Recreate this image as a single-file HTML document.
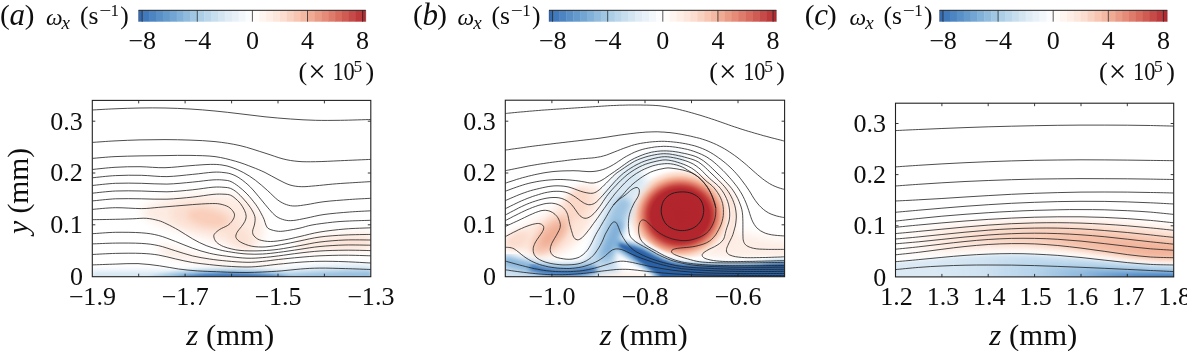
<!DOCTYPE html>
<html lang="en"><head><meta charset="utf-8"><title>Vorticity contours</title>
<style>html,body{margin:0;padding:0;background:#fff}svg{display:block}text{font-family:"Liberation Serif", "DejaVu Serif", serif;fill:#0e0e0e}</style></head><body>
<svg width="1187" height="351" viewBox="0 0 1187 351">
<rect width="1187" height="351" fill="#fff"/>
<defs>
<clipPath id="clipa"><rect x="92.3" y="100.4" width="278.5" height="176.3"/></clipPath>
<clipPath id="clipb"><rect x="505.3" y="100.2" width="279.3" height="176.5"/></clipPath>
<clipPath id="clipc"><rect x="895.5" y="103.2" width="278.2" height="173.7"/></clipPath>
<filter id="b1" x="-50%" y="-50%" width="200%" height="200%"><feGaussianBlur stdDeviation="1"/></filter>
<filter id="b1_5" x="-50%" y="-50%" width="200%" height="200%"><feGaussianBlur stdDeviation="1.5"/></filter>
<filter id="b2" x="-50%" y="-50%" width="200%" height="200%"><feGaussianBlur stdDeviation="2"/></filter>
<filter id="b3" x="-50%" y="-50%" width="200%" height="200%"><feGaussianBlur stdDeviation="3"/></filter>
<filter id="b4" x="-50%" y="-50%" width="200%" height="200%"><feGaussianBlur stdDeviation="4"/></filter>
<filter id="b5" x="-50%" y="-50%" width="200%" height="200%"><feGaussianBlur stdDeviation="5"/></filter>
<filter id="b6" x="-50%" y="-50%" width="200%" height="200%"><feGaussianBlur stdDeviation="6"/></filter>
<filter id="b8" x="-50%" y="-50%" width="200%" height="200%"><feGaussianBlur stdDeviation="8"/></filter>
<filter id="b10" x="-50%" y="-50%" width="200%" height="200%"><feGaussianBlur stdDeviation="10"/></filter>
</defs>
<g id="panel-a">
<text transform="translate(0.0 23.8) scale(1.030 1)" font-size="28.3" text-anchor="start">(</text>
<text transform="translate(9.6 24.6) scale(1.000 1)" font-size="31.0" text-anchor="start" font-style="italic">a</text>
<text transform="translate(24.8 23.8) scale(1.030 1)" font-size="28.3" text-anchor="start">)</text>
<text transform="translate(46.0 24.6) scale(1.000 1)" font-size="23.5" text-anchor="start" font-style="italic">ω</text>
<text transform="translate(61.6 28.6) scale(1.000 1)" font-size="19.0" text-anchor="start" font-style="italic">x</text>
<text transform="translate(79.9 24.2) scale(1.040 1)" font-size="24.6" text-anchor="start">(s</text>
<text transform="translate(99.2 15.9) scale(1.250 1)" font-size="17.0" text-anchor="start">−</text>
<text transform="translate(110.6 15.9) scale(1.000 1)" font-size="17.0" text-anchor="start">1</text>
<text transform="translate(120.3 24.2) scale(1.040 1)" font-size="24.6" text-anchor="start">)</text>
<rect x="138.50" y="10.30" width="4.06" height="11.40" fill="#366bb2"/>
<rect x="142.16" y="10.30" width="7.29" height="11.40" fill="#417abc"/>
<rect x="149.05" y="10.30" width="7.29" height="11.40" fill="#4d84c2"/>
<rect x="155.94" y="10.30" width="7.29" height="11.40" fill="#5990c7"/>
<rect x="162.83" y="10.30" width="7.29" height="11.40" fill="#659acd"/>
<rect x="169.72" y="10.30" width="7.29" height="11.40" fill="#72a5d3"/>
<rect x="176.61" y="10.30" width="7.29" height="11.40" fill="#81b0d8"/>
<rect x="183.50" y="10.30" width="7.29" height="11.40" fill="#90bbdd"/>
<rect x="190.39" y="10.30" width="7.29" height="11.40" fill="#9fc6e2"/>
<rect x="197.28" y="10.30" width="7.29" height="11.40" fill="#accfe7"/>
<rect x="204.17" y="10.30" width="7.29" height="11.40" fill="#bad6eb"/>
<rect x="211.06" y="10.30" width="7.29" height="11.40" fill="#c6deee"/>
<rect x="217.95" y="10.30" width="7.29" height="11.40" fill="#d4e5f2"/>
<rect x="224.84" y="10.30" width="7.29" height="11.40" fill="#dfecf5"/>
<rect x="231.73" y="10.30" width="7.29" height="11.40" fill="#e8f1f8"/>
<rect x="238.62" y="10.30" width="7.29" height="11.40" fill="#f1f7fb"/>
<rect x="245.51" y="10.30" width="7.29" height="11.40" fill="#fafcfe"/>
<rect x="252.40" y="10.30" width="7.29" height="11.40" fill="#fffcfa"/>
<rect x="259.29" y="10.30" width="7.29" height="11.40" fill="#fef4f0"/>
<rect x="266.18" y="10.30" width="7.29" height="11.40" fill="#feeee5"/>
<rect x="273.07" y="10.30" width="7.29" height="11.40" fill="#fde6db"/>
<rect x="279.96" y="10.30" width="7.29" height="11.40" fill="#fcddcf"/>
<rect x="286.85" y="10.30" width="7.29" height="11.40" fill="#f9d1c0"/>
<rect x="293.74" y="10.30" width="7.29" height="11.40" fill="#f7c5b1"/>
<rect x="300.63" y="10.30" width="7.29" height="11.40" fill="#f4b9a2"/>
<rect x="307.52" y="10.30" width="7.29" height="11.40" fill="#f0ab94"/>
<rect x="314.41" y="10.30" width="7.29" height="11.40" fill="#ea9b86"/>
<rect x="321.30" y="10.30" width="7.29" height="11.40" fill="#e58b78"/>
<rect x="328.19" y="10.30" width="7.29" height="11.40" fill="#df7b6a"/>
<rect x="335.08" y="10.30" width="7.29" height="11.40" fill="#d86b5e"/>
<rect x="341.97" y="10.30" width="7.29" height="11.40" fill="#cf5b52"/>
<rect x="348.86" y="10.30" width="7.29" height="11.40" fill="#c64a48"/>
<rect x="355.75" y="10.30" width="7.29" height="11.40" fill="#bd3a3c"/>
<rect x="362.64" y="10.30" width="3.16" height="11.40" fill="#b52930"/>
<path d="M138.5 10.3H365.8" stroke="#222" stroke-width="1" fill="none"/>
<path d="M138.5 10.3V21.7 M365.8 10.3V21.7" stroke="#333" stroke-width="0.5" fill="none" opacity="0.6"/>
<path d="M142.2 10.3V21.7" stroke="#222" stroke-width="0.75" fill="none"/>
<text transform="translate(142.2 49.2) scale(1.050 1)" font-size="24.8" text-anchor="middle">−8</text>
<path d="M197.3 10.3V21.7" stroke="#222" stroke-width="0.75" fill="none"/>
<text transform="translate(197.3 49.2) scale(1.050 1)" font-size="24.8" text-anchor="middle">−4</text>
<path d="M252.4 10.3V21.7" stroke="#222" stroke-width="0.75" fill="none"/>
<text transform="translate(252.4 49.2) scale(1.050 1)" font-size="24.8" text-anchor="middle">0</text>
<path d="M307.5 10.3V21.7" stroke="#222" stroke-width="0.75" fill="none"/>
<text transform="translate(307.5 49.2) scale(1.050 1)" font-size="24.8" text-anchor="middle">4</text>
<path d="M362.6 10.3V21.7" stroke="#222" stroke-width="0.75" fill="none"/>
<text transform="translate(362.6 49.2) scale(1.050 1)" font-size="24.8" text-anchor="middle">8</text>
<text transform="translate(298.4 80.0) scale(1.050 1)" font-size="24.8" text-anchor="start">(</text>
<text transform="translate(317.0 82.0) scale(1.000 1)" font-size="31.0" text-anchor="middle">×</text>
<text transform="translate(332.4 80.0) scale(0.900 1)" font-size="24.8" text-anchor="start">10</text>
<text transform="translate(353.4 71.5) scale(1.000 1)" font-size="17.5" text-anchor="start">5</text>
<text transform="translate(374.2 80.0) scale(1.050 1)" font-size="24.8" text-anchor="end">)</text>
<g clip-path="url(#clipa)">
<g filter="url(#b5)">
<path d="M140 211C156 197 200 192 236 196C254 200 262 214 264 230C264 243 254 250 242 248C225 245 205 238 185 232C163 226 146 220 140 211Z" fill="#fdebe2"/>
</g>
<g filter="url(#b4)">
<ellipse cx="204" cy="217" rx="34" ry="13.5" fill="#fbdfd1" transform="rotate(8 204 217)"/><ellipse cx="236" cy="234" rx="20" ry="9" fill="#fbe0d3" transform="rotate(40 236 234)"/>
</g>
<g filter="url(#b3)">
<ellipse cx="208" cy="218" rx="21" ry="8.5" fill="#f9ceba" transform="rotate(12 208 218)"/>
</g>
<g filter="url(#b4)">
<path d="M296 242C320 236 345 233 372 233L372 250C345 250 320 251 296 251Z" fill="#fde9de"/><path d="M330 244C345 240 360 239 372 239L372 247C360 247 345 248 330 248Z" fill="#fbdfd1"/>
<path d="M88.0 249.3L97.2 249.1L106.4 248.6L115.7 248.1L124.9 248.2L134.1 248.2L143.3 248.5L152.5 249.5L161.7 251.0L171.0 253.4L180.2 255.8L189.4 258.1L198.6 259.9L207.8 261.5L217.0 262.6L226.3 263.7L235.5 264.2L244.7 264.7L253.9 264.4L263.1 263.9L272.3 262.8L281.6 261.8L290.8 260.8L300.0 259.9L300.0 259.9L290.8 260.8L281.6 261.8L272.3 262.8L263.1 263.9L253.9 264.4L244.7 264.7L235.5 264.2L226.3 263.7L217.0 262.6L207.8 261.5L198.6 259.9L189.4 258.1L180.2 255.8L171.0 253.4L161.7 251.0L152.5 249.5L143.3 248.5L134.1 248.2L124.9 248.2L115.7 248.1L106.4 248.6L97.2 249.1L88.0 249.3Z" fill="#fdeee6"/><path d="M160.0 253.4L165.4 254.8L170.9 256.1L176.3 257.4L181.7 258.6L187.2 259.8L192.6 261.1L198.0 261.8L203.5 262.6L208.9 263.4L214.3 264.0L219.8 264.5L225.2 265.1L230.7 265.4L236.1 265.6L241.5 265.9L247.0 266.1L252.4 265.8L257.8 265.5L263.3 265.1L268.7 264.5L274.1 263.9L279.6 263.3L285.0 262.7L285.0 258.9L279.6 259.5L274.1 260.1L268.7 260.7L263.3 261.3L257.8 261.6L252.4 261.9L247.0 262.2L241.5 261.8L236.1 261.4L230.7 261.0L225.2 260.5L219.8 259.8L214.3 259.0L208.9 258.2L203.5 257.0L198.0 255.9L192.6 254.7L187.2 253.0L181.7 251.3L176.3 249.6L170.9 247.9L165.4 246.3L160.0 244.7Z" fill="#fce6db"/>
</g>
<g filter="url(#b3)">
<path d="M90 271.5C130 271 160 271.5 185 272C220 271 250 271 280 270.5C310 266.5 340 264.5 372 265L372 280L90 280Z" fill="#d0e3f1"/>
</g>
<g filter="url(#b2)">
<path d="M150 278C170 272 195 269.5 225 269.5C250 269.5 272 271 292 274C320 272 345 271 372 270.5L372 280L150 280Z" fill="#98c0df"/>
</g>
<g filter="url(#b1_5)">
<path d="M172 278C190 274 215 273 235 273.2C255 273.5 275 275 292 278Z" fill="#3a74b9"/>
</g>
<g fill="none" stroke="#202020" stroke-width="0.8" stroke-linejoin="round">
<path d="M92.3 110.0C96.1 109.8 107.0 109.1 115.0 108.8C123.0 108.5 131.7 108.1 140.0 108.0C148.3 107.9 156.7 107.8 165.0 108.0C173.3 108.2 181.7 108.5 190.0 109.0C198.3 109.5 206.7 110.2 215.0 111.0C223.3 111.8 231.7 112.8 240.0 113.8C248.3 114.8 256.6 115.9 265.0 116.8C273.4 117.7 282.1 118.4 290.5 119.0C298.9 119.6 307.1 120.1 315.5 120.3C323.9 120.5 331.4 120.4 340.6 120.3C349.8 120.2 365.8 119.6 370.8 119.5"/>
<path d="M92.3 142.4C96.1 142.2 107.0 141.3 115.0 140.9C123.0 140.5 131.7 140.1 140.0 139.9C148.3 139.7 156.7 139.6 165.0 139.6C173.3 139.6 181.7 139.8 190.0 140.1C198.3 140.4 206.7 140.7 215.0 141.6C223.3 142.5 231.7 143.7 240.0 145.6C248.3 147.5 257.8 150.9 265.0 153.1C272.2 155.3 277.5 157.5 283.0 158.9C288.5 160.3 292.6 160.9 298.0 161.4C303.4 161.9 308.4 161.8 315.5 161.7C322.6 161.6 331.4 161.1 340.6 160.7C349.8 160.3 365.8 159.6 370.8 159.4"/>
<path d="M92.3 158.4C96.1 158.1 107.0 157.0 115.0 156.6C123.0 156.2 131.7 156.1 140.0 155.9C148.3 155.7 156.7 155.7 165.0 155.6C173.3 155.5 181.7 155.2 190.0 155.4C198.3 155.6 207.4 155.6 215.0 156.6C222.6 157.6 229.2 159.5 235.4 161.2C241.6 162.9 247.1 165.1 252.0 167.0C256.9 168.9 260.7 170.4 265.0 172.5C269.3 174.6 273.8 177.4 278.0 179.5C282.2 181.6 286.0 183.8 290.0 185.0C294.0 186.2 297.6 186.6 301.8 186.7C306.0 186.8 310.3 186.2 315.4 185.8C320.5 185.4 326.8 184.6 332.5 184.1C338.2 183.6 343.2 183.3 349.6 182.9C356.0 182.5 367.3 181.8 370.8 181.6"/>
<path d="M92.3 169.5C96.1 169.1 107.0 167.8 115.0 167.3C123.0 166.8 131.7 166.6 140.0 166.7C148.3 166.8 156.7 167.9 165.0 167.7C173.3 167.5 182.4 166.2 190.0 165.7C197.6 165.1 205.0 164.5 210.3 164.4C215.6 164.3 218.4 164.5 222.0 165.0C225.6 165.5 228.4 166.2 232.0 167.5C235.6 168.8 239.8 170.5 243.7 172.7C247.6 174.8 251.6 177.4 255.6 180.4C259.6 183.4 263.9 187.3 267.6 190.6C271.3 193.9 274.7 197.7 277.8 200.0C280.9 202.3 283.5 203.6 286.4 204.6C289.2 205.6 291.5 206.0 294.9 206.0C298.3 206.0 302.0 205.3 306.9 204.6C311.8 203.9 316.9 202.5 324.0 201.7C331.1 200.8 341.8 200.1 349.6 199.5C357.4 198.9 367.3 198.5 370.8 198.3"/>
<path d="M92.3 177.8C96.2 177.4 107.4 176.0 115.6 175.6C123.8 175.2 132.8 175.1 141.3 175.3C149.9 175.5 158.4 176.8 166.9 176.6C175.4 176.4 184.8 175.1 192.5 174.4C200.2 173.7 207.8 172.5 213.0 172.2C218.2 171.9 220.8 172.2 224.0 172.6C227.2 172.9 229.3 173.3 232.0 174.3C234.7 175.3 237.2 176.5 240.3 178.7C243.4 180.8 247.1 183.8 250.5 187.2C253.9 190.6 257.7 195.5 260.8 199.2C263.9 202.9 266.8 206.6 269.3 209.4C271.9 212.2 273.5 214.5 276.1 216.3C278.7 218.1 281.9 219.3 284.7 220.0C287.5 220.7 289.5 220.8 293.2 220.5C296.9 220.2 301.8 219.0 306.9 218.0C312.0 217.0 316.9 215.5 324.0 214.5C331.1 213.5 341.8 212.6 349.6 212.0C357.4 211.4 367.3 211.0 370.8 210.8"/>
<path d="M92.3 185.5C96.2 185.1 107.4 183.7 115.6 183.3C123.8 182.9 132.8 183.2 141.3 183.3C149.9 183.4 158.4 184.3 166.9 184.1C175.4 183.9 184.8 182.8 192.5 182.1C200.2 181.4 207.8 180.2 213.0 179.9C218.2 179.6 221.0 179.8 224.0 180.1C227.0 180.4 228.6 180.5 231.0 181.6C233.4 182.7 235.8 184.3 238.5 186.4C241.2 188.5 244.2 191.0 247.1 194.0C249.9 197.0 253.3 201.2 255.6 204.3C257.9 207.4 259.4 210.2 260.8 212.8C262.2 215.4 263.4 217.7 264.2 219.7C265.0 221.7 265.1 223.5 265.9 225.0C266.7 226.5 266.9 227.8 269.0 228.9C271.1 230.0 275.3 231.0 278.4 231.3C281.5 231.6 284.2 231.0 287.8 230.5C291.4 230.0 296.0 229.0 300.0 228.1C304.0 227.2 306.6 226.0 312.0 225.0C317.4 224.0 326.2 222.9 332.5 222.2C338.8 221.5 343.2 221.3 349.6 221.0C356.0 220.7 367.3 220.4 370.8 220.3"/>
<path d="M92.3 193.2C96.2 192.8 107.4 191.4 115.6 191.0C123.8 190.6 132.8 190.9 141.3 191.0C149.9 191.1 158.4 192.0 166.9 191.8C175.4 191.6 184.8 190.6 192.5 189.8C200.2 189.0 207.8 187.6 213.0 187.2C218.2 186.8 221.1 187.1 224.0 187.3C226.9 187.5 228.4 187.6 230.5 188.4C232.6 189.2 234.6 190.5 236.8 192.3C239.0 194.1 241.4 196.6 243.7 199.2C246.0 201.8 248.7 204.8 250.5 207.7C252.3 210.5 254.1 213.6 254.8 216.3C255.5 219.0 255.0 221.5 254.6 224.0C254.2 226.5 252.7 229.3 252.6 231.3C252.5 233.3 252.9 234.6 254.1 236.0C255.3 237.4 256.9 239.0 259.6 239.9C262.3 240.8 266.3 241.5 270.5 241.5C274.7 241.5 279.7 240.7 284.6 239.9C289.5 239.1 294.1 237.8 300.0 236.5C305.9 235.2 312.5 233.2 320.0 232.0C327.5 230.8 336.5 229.7 345.0 229.0C353.5 228.3 366.5 228.0 370.8 227.8"/>
<path d="M92.3 200.9C96.2 200.6 107.4 199.2 115.6 198.8C123.8 198.5 132.8 198.7 141.3 198.8C149.9 198.9 158.4 199.5 166.9 199.2C175.4 198.9 184.8 197.9 192.5 197.1C200.2 196.3 207.8 194.9 213.0 194.4C218.2 193.9 221.1 194.1 224.0 194.2C226.9 194.3 228.7 194.5 230.5 195.2C232.3 195.9 233.5 196.9 235.1 198.3C236.7 199.7 238.7 201.4 240.3 203.4C241.9 205.4 243.5 208.2 244.5 210.3C245.5 212.5 246.1 214.4 246.2 216.3C246.2 218.2 245.6 219.8 244.8 221.5C244.0 223.2 242.8 224.7 241.5 226.5C240.2 228.3 237.9 230.7 237.0 232.5C236.1 234.3 235.4 235.9 236.0 237.5C236.6 239.1 238.2 240.8 240.8 242.2C243.4 243.6 247.5 245.4 251.7 246.2C255.9 247.0 260.8 247.2 265.8 246.9C270.8 246.6 275.8 245.6 281.5 244.6C287.2 243.6 293.6 242.2 300.0 240.9C306.4 239.6 312.5 238.0 320.0 237.0C327.5 236.0 336.5 235.4 345.0 235.0C353.5 234.6 366.5 234.5 370.8 234.4"/>
<path d="M92.3 209.4C96.2 209.1 107.4 207.8 115.6 207.7C123.8 207.6 134.2 208.6 141.3 208.6C148.4 208.6 152.6 207.8 158.3 207.4C164.0 207.0 169.7 206.5 175.4 206.0C181.1 205.5 186.8 205.0 192.5 204.6C198.2 204.2 205.0 203.7 209.6 203.6C214.2 203.5 216.7 203.4 219.8 204.0C222.9 204.6 226.1 205.6 228.4 206.9C230.7 208.2 232.5 210.4 233.5 212.0C234.5 213.6 234.7 214.7 234.4 216.3C234.1 217.9 233.0 219.9 231.8 221.4C230.7 222.9 229.5 224.2 227.5 225.5C225.5 226.8 221.9 228.0 219.8 229.4C217.7 230.8 215.7 232.4 214.7 233.7C213.7 235.0 213.6 235.7 213.9 237.1C214.2 238.5 214.9 240.6 216.5 242.2C218.1 243.8 220.8 245.4 223.4 246.5C226.0 247.6 229.0 248.3 231.8 249.0C234.6 249.7 237.0 250.1 240.0 250.4C243.0 250.7 246.2 250.9 250.0 250.9C253.8 250.9 258.0 251.0 262.7 250.7C267.4 250.4 272.2 250.2 278.4 249.3C284.6 248.5 293.1 246.8 300.0 245.6C306.9 244.4 312.5 242.9 320.0 242.0C327.5 241.1 336.5 240.3 345.0 240.0C353.5 239.7 366.5 240.0 370.8 240.0"/>
<path d="M92.3 219.7C96.2 219.6 108.9 219.5 115.6 219.3C122.3 219.2 127.6 219.0 132.7 218.8C137.8 218.6 142.1 218.0 146.4 218.3C150.7 218.6 154.9 219.6 158.3 220.5C161.7 221.4 163.5 222.4 166.9 224.0C170.3 225.6 174.5 227.8 178.8 230.3C183.1 232.8 187.9 236.2 192.5 238.8C197.1 241.4 201.6 243.8 206.2 245.6C210.8 247.4 215.5 248.8 219.8 249.9C224.1 251.0 227.3 251.5 231.8 252.2C236.3 252.9 241.8 253.7 247.0 254.0C252.2 254.3 257.5 254.3 262.7 254.0C267.9 253.7 272.2 253.2 278.4 252.4C284.6 251.6 293.1 250.3 300.0 249.3C306.9 248.3 312.5 247.2 320.0 246.5C327.5 245.8 336.5 245.2 345.0 245.0C353.5 244.8 366.5 245.2 370.8 245.2"/>
<path d="M92.3 233.7C96.2 233.5 107.4 232.5 115.6 232.3C123.8 232.2 134.2 232.3 141.3 232.8C148.4 233.3 152.6 234.0 158.3 235.4C164.0 236.8 169.7 239.3 175.4 241.4C181.1 243.5 186.8 246.2 192.5 248.2C198.2 250.2 203.9 252.0 209.6 253.3C215.3 254.6 220.5 255.4 226.7 256.2C232.9 257.0 241.0 258.0 247.0 258.2C253.0 258.4 257.5 258.0 262.7 257.6C267.9 257.2 272.2 256.7 278.4 255.9C284.6 255.1 293.1 253.8 300.0 253.0C306.9 252.2 312.5 251.5 320.0 251.0C327.5 250.5 336.5 250.3 345.0 250.2C353.5 250.1 366.5 250.5 370.8 250.6"/>
<path d="M92.3 243.9C96.2 243.8 107.4 243.2 115.6 243.1C123.8 243.0 134.2 243.0 141.3 243.4C148.4 243.8 152.6 244.4 158.3 245.6C164.0 246.8 169.7 249.1 175.4 250.8C181.1 252.5 186.8 254.5 192.5 255.9C198.2 257.3 203.9 258.1 209.6 259.0C215.3 259.9 220.5 260.4 226.7 261.0C232.9 261.6 241.0 262.2 247.0 262.3C253.0 262.4 257.5 261.9 262.7 261.4C267.9 260.9 272.2 260.2 278.4 259.5C284.6 258.8 293.1 257.9 300.0 257.3C306.9 256.7 312.5 256.2 320.0 255.8C327.5 255.5 336.5 255.2 345.0 255.2C353.5 255.2 366.5 255.7 370.8 255.8"/>
<path d="M92.3 254.5C96.2 254.3 107.4 253.6 115.6 253.4C123.8 253.2 134.2 253.1 141.3 253.4C148.4 253.7 152.6 254.1 158.3 255.0C164.0 255.9 169.7 257.6 175.4 258.9C181.1 260.1 186.8 261.6 192.5 262.5C198.2 263.4 203.9 264.0 209.6 264.6C215.3 265.2 220.5 265.8 226.7 266.2C232.9 266.6 241.0 267.0 247.0 267.0C253.0 267.0 257.5 266.5 262.7 266.0C267.9 265.5 272.2 264.8 278.4 264.2C284.6 263.6 293.1 262.7 300.0 262.2C306.9 261.7 312.5 261.4 320.0 261.3C327.5 261.2 336.5 261.4 345.0 261.7C353.5 262.0 366.5 262.8 370.8 263.0"/>
<path d="M92.3 264.9C96.2 264.8 108.0 264.3 115.6 264.1C123.2 263.9 130.7 263.3 138.0 263.6C145.3 263.9 152.8 264.9 159.5 265.8C166.2 266.7 172.2 268.1 178.5 269.0C184.8 269.9 191.1 270.4 197.4 270.9C203.7 271.3 210.8 271.5 216.4 271.7C222.1 271.9 226.2 272.2 231.3 272.3C236.4 272.4 241.8 272.6 247.0 272.5C252.2 272.4 257.0 272.3 262.7 272.0C268.4 271.7 275.0 271.4 281.3 270.9C287.6 270.4 294.1 269.5 300.5 269.0C306.9 268.5 312.2 268.2 319.7 268.1C327.2 268.0 336.9 268.4 345.4 268.6C353.9 268.8 366.6 269.4 370.8 269.5"/>
</g>
</g>
<text transform="translate(92.3 304.6) scale(1.050 1)" font-size="24.8" text-anchor="middle">−1.9</text>
<text transform="translate(185.1 304.6) scale(1.050 1)" font-size="24.8" text-anchor="middle">−1.7</text>
<text transform="translate(278.0 304.6) scale(1.050 1)" font-size="24.8" text-anchor="middle">−1.5</text>
<text transform="translate(370.8 304.6) scale(1.050 1)" font-size="24.8" text-anchor="middle">−1.3</text>
<text transform="translate(82.8 129.5) scale(1.050 1)" font-size="24.8" text-anchor="end">0.3</text>
<text transform="translate(82.8 181.3) scale(1.050 1)" font-size="24.8" text-anchor="end">0.2</text>
<text transform="translate(82.8 233.1) scale(1.050 1)" font-size="24.8" text-anchor="end">0.1</text>
<text transform="translate(83.0 284.8) scale(1.050 1)" font-size="24.8" text-anchor="end">0</text>
<path d="M138.7 276.7v-3.0 M138.7 100.4v3.0M185.1 276.7v-3.0 M185.1 100.4v3.0M231.6 276.7v-3.0 M231.6 100.4v3.0M278.0 276.7v-3.0 M278.0 100.4v3.0M324.4 276.7v-3.0 M324.4 100.4v3.0M92.3 121.2h3.0 M370.8 121.2h-3.0M92.3 173.0h3.0 M370.8 173.0h-3.0M92.3 224.8h3.0 M370.8 224.8h-3.0" stroke="#222" stroke-width="0.9" fill="none"/>
<rect x="92.3" y="100.4" width="278.5" height="176.3" fill="none" stroke="#222" stroke-width="1.1"/>
<text transform="translate(230.2 345.0) scale(1.060 1)" font-size="29.0" text-anchor="middle" xml:space="preserve"><tspan font-style="italic">z</tspan> (mm)</text>
<text transform="translate(28.3 191) rotate(-90) scale(1.02 1)" font-size="29.0" text-anchor="middle" xml:space="preserve"><tspan font-style="italic">y</tspan> (mm)</text>
</g>
<g id="panel-b">
<text transform="translate(412.9 23.8) scale(1.030 1)" font-size="28.3" text-anchor="start">(</text>
<text transform="translate(422.5 24.6) scale(1.000 1)" font-size="31.0" text-anchor="start" font-style="italic">b</text>
<text transform="translate(437.3 23.8) scale(1.030 1)" font-size="28.3" text-anchor="start">)</text>
<text transform="translate(457.6 24.6) scale(1.000 1)" font-size="23.5" text-anchor="start" font-style="italic">ω</text>
<text transform="translate(473.2 28.6) scale(1.000 1)" font-size="19.0" text-anchor="start" font-style="italic">x</text>
<text transform="translate(491.5 24.2) scale(1.040 1)" font-size="24.6" text-anchor="start">(s</text>
<text transform="translate(510.8 15.9) scale(1.250 1)" font-size="17.0" text-anchor="start">−</text>
<text transform="translate(522.2 15.9) scale(1.000 1)" font-size="17.0" text-anchor="start">1</text>
<text transform="translate(531.9 24.2) scale(1.040 1)" font-size="24.6" text-anchor="start">)</text>
<rect x="549.00" y="10.30" width="3.96" height="11.40" fill="#366bb2"/>
<rect x="552.56" y="10.30" width="7.29" height="11.40" fill="#417abc"/>
<rect x="559.45" y="10.30" width="7.29" height="11.40" fill="#4d84c2"/>
<rect x="566.34" y="10.30" width="7.29" height="11.40" fill="#5990c7"/>
<rect x="573.23" y="10.30" width="7.29" height="11.40" fill="#659acd"/>
<rect x="580.12" y="10.30" width="7.29" height="11.40" fill="#72a5d3"/>
<rect x="587.01" y="10.30" width="7.29" height="11.40" fill="#81b0d8"/>
<rect x="593.90" y="10.30" width="7.29" height="11.40" fill="#90bbdd"/>
<rect x="600.79" y="10.30" width="7.29" height="11.40" fill="#9fc6e2"/>
<rect x="607.68" y="10.30" width="7.29" height="11.40" fill="#accfe7"/>
<rect x="614.57" y="10.30" width="7.29" height="11.40" fill="#bad6eb"/>
<rect x="621.46" y="10.30" width="7.29" height="11.40" fill="#c6deee"/>
<rect x="628.35" y="10.30" width="7.29" height="11.40" fill="#d4e5f2"/>
<rect x="635.24" y="10.30" width="7.29" height="11.40" fill="#dfecf5"/>
<rect x="642.13" y="10.30" width="7.29" height="11.40" fill="#e8f1f8"/>
<rect x="649.02" y="10.30" width="7.29" height="11.40" fill="#f1f7fb"/>
<rect x="655.91" y="10.30" width="7.29" height="11.40" fill="#fafcfe"/>
<rect x="662.80" y="10.30" width="7.29" height="11.40" fill="#fffcfa"/>
<rect x="669.69" y="10.30" width="7.29" height="11.40" fill="#fef4f0"/>
<rect x="676.58" y="10.30" width="7.29" height="11.40" fill="#feeee5"/>
<rect x="683.47" y="10.30" width="7.29" height="11.40" fill="#fde6db"/>
<rect x="690.36" y="10.30" width="7.29" height="11.40" fill="#fcddcf"/>
<rect x="697.25" y="10.30" width="7.29" height="11.40" fill="#f9d1c0"/>
<rect x="704.14" y="10.30" width="7.29" height="11.40" fill="#f7c5b1"/>
<rect x="711.03" y="10.30" width="7.29" height="11.40" fill="#f4b9a2"/>
<rect x="717.92" y="10.30" width="7.29" height="11.40" fill="#f0ab94"/>
<rect x="724.81" y="10.30" width="7.29" height="11.40" fill="#ea9b86"/>
<rect x="731.70" y="10.30" width="7.29" height="11.40" fill="#e58b78"/>
<rect x="738.59" y="10.30" width="7.29" height="11.40" fill="#df7b6a"/>
<rect x="745.48" y="10.30" width="7.29" height="11.40" fill="#d86b5e"/>
<rect x="752.37" y="10.30" width="7.29" height="11.40" fill="#cf5b52"/>
<rect x="759.26" y="10.30" width="7.29" height="11.40" fill="#c64a48"/>
<rect x="766.15" y="10.30" width="7.29" height="11.40" fill="#bd3a3c"/>
<rect x="773.04" y="10.30" width="3.36" height="11.40" fill="#b52930"/>
<path d="M549.0 10.3H776.4" stroke="#222" stroke-width="1" fill="none"/>
<path d="M549.0 10.3V21.7 M776.4 10.3V21.7" stroke="#333" stroke-width="0.5" fill="none" opacity="0.6"/>
<path d="M552.6 10.3V21.7" stroke="#222" stroke-width="0.75" fill="none"/>
<text transform="translate(552.6 49.2) scale(1.050 1)" font-size="24.8" text-anchor="middle">−8</text>
<path d="M607.7 10.3V21.7" stroke="#222" stroke-width="0.75" fill="none"/>
<text transform="translate(607.7 49.2) scale(1.050 1)" font-size="24.8" text-anchor="middle">−4</text>
<path d="M662.8 10.3V21.7" stroke="#222" stroke-width="0.75" fill="none"/>
<text transform="translate(662.8 49.2) scale(1.050 1)" font-size="24.8" text-anchor="middle">0</text>
<path d="M717.9 10.3V21.7" stroke="#222" stroke-width="0.75" fill="none"/>
<text transform="translate(717.9 49.2) scale(1.050 1)" font-size="24.8" text-anchor="middle">4</text>
<path d="M773.0 10.3V21.7" stroke="#222" stroke-width="0.75" fill="none"/>
<text transform="translate(773.0 49.2) scale(1.050 1)" font-size="24.8" text-anchor="middle">8</text>
<text transform="translate(709.2 80.0) scale(1.050 1)" font-size="24.8" text-anchor="start">(</text>
<text transform="translate(727.8 82.0) scale(1.000 1)" font-size="31.0" text-anchor="middle">×</text>
<text transform="translate(743.2 80.0) scale(0.900 1)" font-size="24.8" text-anchor="start">10</text>
<text transform="translate(764.2 71.5) scale(1.000 1)" font-size="17.5" text-anchor="start">5</text>
<text transform="translate(785.0 80.0) scale(1.050 1)" font-size="24.8" text-anchor="end">)</text>
<g clip-path="url(#clipb)">
<defs><radialGradient id="vort" cx="680" cy="215.3" r="50" gradientUnits="userSpaceOnUse" gradientTransform="translate(680 215.3) scale(1.06 0.95) translate(-680 -215.3)"><stop offset="0" stop-color="#b2242c"/><stop offset="0.55" stop-color="#b3262d"/><stop offset="0.62" stop-color="#c5413c"/><stop offset="0.69" stop-color="#dc7262"/><stop offset="0.76" stop-color="#f0a58b"/><stop offset="0.84" stop-color="#fad3c0"/><stop offset="0.92" stop-color="#feeee6"/><stop offset="1" stop-color="#ffffff" stop-opacity="0"/></radialGradient></defs>
<g filter="url(#b4)">
<path d="M506.0 237.0C508.8 233.7 516.8 231.3 523.0 228.0C529.2 224.7 536.8 221.0 543.0 217.0C549.2 213.0 554.7 208.3 560.0 204.0C565.3 199.7 570.0 194.0 575.0 191.0C580.0 188.0 585.8 186.0 590.0 186.0C594.2 186.0 598.5 187.8 600.0 191.0C601.5 194.2 600.5 199.8 599.0 205.0C597.5 210.2 594.2 216.5 591.0 222.0C587.8 227.5 583.8 233.5 580.0 238.0C576.2 242.5 572.7 246.0 568.0 249.0C563.3 252.0 557.7 255.2 552.0 256.0C546.3 256.8 539.7 255.0 534.0 254.0C528.3 253.0 522.7 251.0 518.0 250.0C513.3 249.0 508.0 250.2 506.0 248.0C504.0 245.8 503.2 240.3 506.0 237.0Z" fill="#fde5d9"/>
</g>
<g filter="url(#b3)">
<ellipse cx="551" cy="235" rx="25" ry="12" transform="rotate(-46 551 235)" fill="#f6c6b1"/>
<ellipse cx="577" cy="204" rx="11" ry="17" transform="rotate(25 577 204)" fill="#fbd8c8"/><ellipse cx="517" cy="240" rx="12" ry="7" transform="rotate(-25 517 240)" fill="#fbdccd"/>
</g>
<g filter="url(#b3)">
<ellipse cx="552" cy="235" rx="16" ry="6.5" transform="rotate(-46 552 235)" fill="#f0ae95"/>
</g>
<g filter="url(#b5)">
<path d="M700.0 246.0C702.5 242.7 713.3 238.3 720.0 236.0C726.7 233.7 732.5 231.7 740.0 232.0C747.5 232.3 756.7 236.3 765.0 238.0C773.3 239.7 785.8 238.7 790.0 242.0C794.2 245.3 795.0 255.2 790.0 258.0C785.0 260.8 770.0 259.0 760.0 259.0C750.0 259.0 739.2 258.5 730.0 258.0C720.8 257.5 710.0 258.0 705.0 256.0C700.0 254.0 697.5 249.3 700.0 246.0Z" fill="#fdeee6"/>
</g>
<g filter="url(#b3)">
<path d="M606.0 200.0C608.0 197.2 613.3 188.3 618.0 183.0C622.7 177.7 628.3 172.0 634.0 168.0C639.7 164.0 646.3 160.8 652.0 159.0C657.7 157.2 662.7 156.8 668.0 157.0C673.3 157.2 681.3 159.5 684.0 160.0" fill="none" stroke="#deebf5" stroke-width="11"/>
</g>
<g filter="url(#b5)">
<ellipse cx="716" cy="214" rx="20" ry="30" fill="#fbdacb"/>
<ellipse cx="706" cy="238" rx="20" ry="8" fill="#fbdacb" transform="rotate(-30 706 238)"/>
</g>
<ellipse cx="680" cy="215.3" rx="54" ry="49" fill="url(#vort)"/>
<g filter="url(#b3)">
<path d="M500.0 258.5C502.3 254.8 509.7 259.0 514.0 259.5C518.3 260.0 521.7 260.8 526.0 261.5C530.3 262.2 534.7 263.3 540.0 264.0C545.3 264.7 552.0 265.4 558.0 265.5C564.0 265.6 570.3 265.5 576.0 264.5C581.7 263.5 588.0 261.1 592.0 259.5C596.0 257.9 596.7 255.2 600.0 255.0C603.3 254.8 610.0 253.5 612.0 258.0C614.0 262.5 630.7 278.0 612.0 282.0C593.3 286.0 518.7 285.9 500.0 282.0C481.3 278.1 497.7 262.2 500.0 258.5Z" fill="#cfe2f1"/>
</g>
<g filter="url(#b3)">
<path d="M503.0 260.0C505.8 260.8 513.8 263.0 520.0 264.5C526.2 266.0 533.3 267.9 540.0 269.0C546.7 270.1 553.3 270.8 560.0 271.0C566.7 271.2 573.7 271.0 580.0 270.0C586.3 269.0 595.0 265.8 598.0 265.0" fill="none" stroke="#86b4d9" stroke-width="11"/>
</g>
<g filter="url(#b2)">
<path d="M530.0 267.0C532.5 267.7 539.7 270.0 545.0 271.0C550.3 272.0 556.2 272.6 562.0 272.8C567.8 273.0 574.3 272.7 580.0 272.0C585.7 271.3 593.3 269.1 596.0 268.5" fill="none" stroke="#3a74b9" stroke-width="6"/>
</g>
<g filter="url(#b4)">
<path d="M611.0 230.0C612.0 227.0 614.8 217.7 617.0 212.0C619.2 206.3 621.5 200.8 624.0 196.0C626.5 191.2 629.2 186.7 632.0 183.0C634.8 179.3 639.5 175.5 641.0 174.0" fill="none" stroke="#d7e7f3" stroke-width="24"/>
<path d="M598.0 266.0C599.2 263.0 602.8 254.0 605.0 248.0C607.2 242.0 609.0 235.7 611.0 230.0C613.0 224.3 615.3 218.3 617.0 214.0C618.7 209.7 620.3 205.7 621.0 204.0" fill="none" stroke="#c3dbee" stroke-width="26"/>
</g>
<g filter="url(#b3)">
<path d="M603.0 262.0C603.8 259.3 606.3 251.5 608.0 246.0C609.7 240.5 611.2 234.5 613.0 229.0C614.8 223.5 616.8 218.0 619.0 213.0C621.2 208.0 624.8 201.3 626.0 199.0" fill="none" stroke="#9cc3e1" stroke-width="14"/>
</g>
<g filter="url(#b3)">
<path d="M606.0 255.0C606.8 253.0 609.3 246.8 611.0 243.0C612.7 239.2 614.5 235.5 616.0 232.0C617.5 228.5 619.3 223.7 620.0 222.0" fill="none" stroke="#7aabd6" stroke-width="8"/>
</g>
<g filter="url(#b1_5)">
<path d="M640.0 240.5C641.9 241.8 647.6 246.2 651.4 248.5C655.2 250.8 659.0 252.9 662.8 254.5C666.6 256.1 670.4 257.2 674.2 258.2C678.0 259.1 678.0 259.6 685.6 260.2C693.2 260.8 702.6 261.6 720.0 261.5C737.4 261.4 778.3 259.8 790.0 259.5" fill="none" stroke="#ffffff" stroke-width="6"/>
</g>
<g filter="url(#b2)">
<path d="M613.0 238.0C614.8 237.2 619.5 239.9 624.0 241.0C628.5 242.1 635.3 242.8 640.0 244.5C644.7 246.2 648.0 248.8 652.0 251.0C656.0 253.2 660.0 255.8 664.0 257.5C668.0 259.2 671.7 260.1 676.0 261.0C680.3 261.9 682.7 262.4 690.0 262.8C697.3 263.2 710.0 263.6 720.0 263.6C730.0 263.6 738.3 263.3 750.0 263.0C761.7 262.7 783.3 258.3 790.0 261.8C796.7 265.3 811.7 280.3 790.0 284.0C768.3 287.7 682.7 285.3 660.0 284.0C637.3 282.7 656.7 278.6 654.0 276.0C651.3 273.4 647.5 270.9 644.0 268.5C640.5 266.1 636.7 263.9 633.0 261.5C629.3 259.1 625.3 256.6 622.0 254.0C618.7 251.4 614.5 248.7 613.0 246.0C611.5 243.3 611.2 238.8 613.0 238.0Z" fill="#7fb0d8"/>
</g>
<g filter="url(#b1_5)">
<path d="M619.0 243.5C620.3 243.1 625.3 244.6 629.0 245.5C632.7 246.4 637.2 247.5 641.0 249.0C644.8 250.5 648.2 252.7 652.0 254.5C655.8 256.3 660.0 258.5 664.0 260.0C668.0 261.5 671.7 262.7 676.0 263.5C680.3 264.3 682.7 264.6 690.0 265.0C697.3 265.4 710.0 265.7 720.0 265.8C730.0 265.9 738.3 265.6 750.0 265.4C761.7 265.2 783.3 261.3 790.0 264.4C796.7 267.5 810.3 280.7 790.0 284.0C769.7 287.3 689.7 285.3 668.0 284.0C646.3 282.7 663.0 278.5 660.0 276.0C657.0 273.5 653.3 271.3 650.0 269.0C646.7 266.7 643.3 264.4 640.0 262.0C636.7 259.6 633.2 256.8 630.0 254.5C626.8 252.2 622.8 249.8 621.0 248.0C619.2 246.2 617.7 243.9 619.0 243.5Z" fill="#2b62a8"/>
</g>
<g filter="url(#b2)">
<path d="M596.0 277.5C593.2 276.4 603.3 274.4 608.0 273.5C612.7 272.6 618.7 272.3 624.0 272.3C629.3 272.3 635.3 272.6 640.0 273.5C644.7 274.4 654.5 276.9 652.0 278.0C649.5 279.1 634.3 280.1 625.0 280.0C615.7 279.9 598.8 278.6 596.0 277.5Z" fill="#fdf1ea"/>
</g>
<g fill="none" stroke="#202020" stroke-width="0.8" stroke-linejoin="round">
<path d="M505.3 113.5C505.8 113.5 507.3 113.3 508.3 113.2C509.3 113.1 510.3 113.0 511.3 112.9C512.3 112.8 513.3 112.7 514.3 112.6C515.3 112.5 516.3 112.4 517.3 112.3C518.3 112.2 519.3 112.1 520.3 112.0C521.3 112.0 522.3 111.9 523.3 111.8C524.3 111.7 525.3 111.6 526.3 111.5C527.3 111.4 528.3 111.3 529.3 111.2C530.3 111.1 531.3 111.0 532.3 111.0C533.3 110.9 534.4 110.8 535.4 110.7C536.4 110.6 537.4 110.5 538.4 110.5C539.4 110.4 540.4 110.3 541.4 110.2C542.4 110.2 543.4 110.1 544.4 110.0C545.4 109.9 546.4 109.9 547.4 109.8C548.4 109.7 549.4 109.7 550.4 109.6C551.4 109.5 552.4 109.5 553.4 109.4C554.4 109.3 555.4 109.3 556.4 109.2C557.4 109.1 558.4 109.1 559.4 109.0C560.4 108.9 561.4 108.9 562.5 108.8C563.5 108.8 564.5 108.7 565.5 108.6C566.5 108.6 567.5 108.5 568.5 108.4C569.5 108.4 570.5 108.3 571.5 108.2C572.5 108.2 573.5 108.1 574.5 108.0C575.5 108.0 576.5 107.9 577.5 107.8C578.5 107.8 579.5 107.7 580.5 107.6C581.5 107.6 582.5 107.5 583.5 107.4C584.5 107.4 585.5 107.3 586.5 107.2C587.5 107.1 588.6 107.1 589.6 107.0C590.6 106.9 591.6 106.9 592.6 106.8C593.6 106.7 594.6 106.6 595.6 106.6C596.6 106.5 597.6 106.4 598.6 106.4C599.6 106.3 600.6 106.2 601.6 106.2C602.6 106.1 603.6 106.0 604.6 106.0C605.6 105.9 606.6 105.9 607.6 105.8C608.6 105.8 609.6 105.7 610.6 105.6C611.6 105.6 612.7 105.5 613.7 105.5C614.7 105.4 615.7 105.4 616.7 105.4C617.7 105.3 618.7 105.3 619.7 105.2C620.7 105.2 621.7 105.2 622.7 105.2C623.7 105.1 624.7 105.1 625.7 105.1C626.7 105.1 627.7 105.1 628.7 105.0C629.7 105.0 630.8 105.0 631.8 105.0C632.8 105.0 633.8 105.0 634.8 105.0C635.8 105.0 636.8 105.0 637.8 105.0C638.8 105.0 639.8 105.0 640.8 105.0C641.8 105.0 642.8 105.0 643.8 105.1C644.8 105.1 645.8 105.1 646.8 105.1C647.9 105.1 648.9 105.1 649.9 105.2C650.9 105.2 651.9 105.3 652.9 105.3C653.9 105.4 654.9 105.4 655.9 105.5C656.9 105.6 657.9 105.6 658.9 105.7C659.9 105.8 660.9 105.9 661.9 106.1C662.9 106.2 663.9 106.3 664.9 106.5C665.9 106.6 666.9 106.8 667.8 107.0C668.8 107.2 669.8 107.3 670.8 107.5C671.8 107.8 672.8 108.0 673.7 108.2C674.7 108.4 675.7 108.6 676.7 108.9C677.7 109.1 678.6 109.4 679.6 109.6C680.6 109.9 681.6 110.1 682.5 110.4C683.5 110.6 684.5 110.9 685.5 111.1C686.4 111.4 687.4 111.7 688.4 111.9C689.3 112.2 690.3 112.5 691.3 112.7C692.2 113.0 693.2 113.3 694.2 113.5C695.1 113.8 696.1 114.1 697.1 114.4C698.0 114.7 699.0 115.0 700.0 115.2C700.9 115.5 701.9 115.8 702.9 116.1C703.8 116.4 704.8 116.7 705.7 117.0C706.7 117.3 707.7 117.6 708.6 117.9C709.6 118.2 710.5 118.5 711.5 118.9C712.4 119.2 713.4 119.5 714.4 119.8C715.3 120.1 716.3 120.4 717.2 120.8C718.2 121.1 719.1 121.4 720.1 121.8C721.0 122.1 722.0 122.4 722.9 122.8C723.9 123.1 724.8 123.4 725.8 123.8C726.7 124.1 727.7 124.5 728.6 124.8C729.6 125.1 730.5 125.5 731.4 125.8C732.4 126.1 733.4 126.4 734.3 126.8C735.3 127.1 736.2 127.4 737.2 127.7C738.1 128.0 739.1 128.4 740.0 128.7C741.0 129.0 741.9 129.3 742.9 129.6C743.9 129.9 744.8 130.2 745.8 130.5C746.7 130.8 747.7 131.1 748.7 131.4C749.6 131.7 750.6 131.9 751.6 132.2C752.5 132.5 753.5 132.8 754.5 133.1C755.4 133.4 756.4 133.6 757.4 133.9C758.3 134.2 759.3 134.5 760.3 134.7C761.2 135.0 762.2 135.3 763.2 135.6C764.1 135.8 765.1 136.1 766.1 136.3C767.1 136.6 768.0 136.9 769.0 137.1C770.0 137.4 770.9 137.6 771.9 137.9C772.9 138.1 773.9 138.4 774.8 138.6C775.8 138.9 776.8 139.1 777.8 139.4C778.7 139.6 779.7 139.9 780.7 140.1C781.7 140.4 783.0 140.7 783.6 140.9C784.3 141.0 784.4 141.1 784.6 141.1"/>
<path d="M505.3 150.1C505.8 150.0 507.3 149.8 508.3 149.7C509.3 149.5 510.3 149.4 511.3 149.2C512.3 149.1 513.3 149.0 514.3 148.8C515.3 148.7 516.2 148.5 517.2 148.4C518.2 148.3 519.2 148.1 520.2 148.0C521.2 147.8 522.2 147.7 523.2 147.6C524.2 147.4 525.2 147.3 526.2 147.1C527.2 147.0 528.2 146.9 529.2 146.7C530.2 146.6 531.2 146.5 532.2 146.3C533.2 146.2 534.2 146.1 535.2 145.9C536.2 145.8 537.2 145.7 538.2 145.5C539.2 145.4 540.2 145.3 541.2 145.2C542.2 145.0 543.2 144.9 544.1 144.8C545.1 144.7 546.1 144.5 547.1 144.4C548.1 144.3 549.1 144.2 550.1 144.1C551.1 143.9 552.1 143.8 553.1 143.7C554.1 143.6 555.1 143.5 556.1 143.3C557.1 143.2 558.1 143.1 559.1 143.0C560.1 142.9 561.1 142.8 562.1 142.6C563.1 142.5 564.1 142.4 565.1 142.3C566.1 142.2 567.1 142.1 568.1 141.9C569.1 141.8 570.1 141.7 571.1 141.6C572.1 141.5 573.1 141.3 574.1 141.2C575.1 141.1 576.1 141.0 577.1 140.9C578.1 140.8 579.1 140.6 580.1 140.5C581.1 140.4 582.1 140.3 583.1 140.2C584.1 140.1 585.1 140.0 586.1 139.8C587.1 139.7 588.1 139.6 589.1 139.5C590.1 139.4 591.1 139.2 592.1 139.1C593.1 139.0 594.1 138.9 595.1 138.8C596.1 138.6 597.1 138.5 598.1 138.4C599.1 138.2 600.1 138.1 601.0 138.0C602.0 137.8 603.0 137.7 604.0 137.5C605.0 137.4 606.0 137.2 607.0 137.1C608.0 136.9 609.0 136.8 610.0 136.6C611.0 136.5 612.0 136.3 613.0 136.1C614.0 136.0 615.0 135.8 616.0 135.7C616.9 135.5 617.9 135.4 618.9 135.2C619.9 135.1 620.9 134.9 621.9 134.8C622.9 134.7 623.9 134.5 624.9 134.4C625.9 134.2 626.9 134.1 627.9 134.0C628.9 133.9 629.9 133.7 630.9 133.6C631.9 133.5 632.9 133.4 633.9 133.3C634.9 133.2 635.9 133.0 636.9 132.9C637.9 132.8 638.9 132.7 639.9 132.6C640.9 132.5 641.9 132.4 642.9 132.4C643.9 132.3 644.9 132.2 645.9 132.1C646.9 132.1 647.9 132.0 648.9 132.0C649.9 131.9 650.9 131.9 651.9 131.9C652.9 131.8 653.9 131.8 654.9 131.8C655.9 131.8 656.9 131.8 657.9 131.8C658.9 131.9 660.0 131.9 661.0 132.0C662.0 132.0 663.0 132.1 664.0 132.1C665.0 132.2 666.0 132.3 667.0 132.4C668.0 132.4 669.0 132.5 670.0 132.6C671.0 132.7 672.0 132.9 673.0 133.0C674.0 133.1 675.0 133.3 676.0 133.4C676.9 133.6 677.9 133.7 678.9 133.9C679.9 134.0 680.9 134.2 681.9 134.4C682.9 134.6 683.9 134.8 684.9 135.0C685.8 135.2 686.8 135.4 687.8 135.6C688.8 135.8 689.8 136.0 690.8 136.2C691.7 136.4 692.7 136.6 693.7 136.9C694.7 137.1 695.7 137.3 696.6 137.6C697.6 137.8 698.6 138.1 699.6 138.3C700.5 138.6 701.5 138.9 702.4 139.2C703.4 139.5 704.4 139.8 705.3 140.1C706.3 140.4 707.2 140.8 708.1 141.1C709.1 141.5 710.0 141.9 710.9 142.2C711.9 142.6 712.8 143.0 713.7 143.4C714.6 143.8 715.6 144.2 716.5 144.6C717.4 145.1 718.3 145.5 719.2 146.0C720.1 146.4 721.0 146.9 721.9 147.4C722.7 147.8 723.6 148.3 724.5 148.8C725.3 149.3 726.2 149.8 727.1 150.4C727.9 150.9 728.8 151.4 729.6 152.0C730.4 152.6 731.3 153.1 732.1 153.7C732.9 154.3 733.7 154.9 734.5 155.4C735.4 156.0 736.2 156.6 737.0 157.2C737.8 157.8 738.6 158.5 739.4 159.1C740.2 159.7 740.9 160.3 741.7 160.9C742.5 161.6 743.3 162.2 744.1 162.9C744.8 163.5 745.6 164.2 746.4 164.8C747.1 165.5 747.9 166.1 748.6 166.8C749.4 167.5 750.1 168.1 750.9 168.8C751.6 169.5 752.4 170.1 753.1 170.8C753.9 171.5 754.6 172.1 755.4 172.8C756.1 173.5 756.9 174.1 757.7 174.8C758.4 175.4 759.2 176.1 760.0 176.7C760.7 177.4 761.5 178.0 762.3 178.6C763.1 179.2 763.9 179.8 764.7 180.4C765.5 181.0 766.4 181.6 767.2 182.1C768.0 182.7 768.9 183.2 769.7 183.7C770.6 184.2 771.5 184.7 772.4 185.2C773.3 185.6 774.2 186.0 775.1 186.4C776.0 186.8 776.9 187.2 777.9 187.5C778.8 187.9 779.8 188.2 780.7 188.4C781.7 188.7 783.0 189.1 783.6 189.2C784.3 189.4 784.4 189.5 784.6 189.5"/>
<path d="M505.3 170.7C505.8 170.6 507.3 170.3 508.3 170.1C509.2 169.9 510.2 169.7 511.2 169.5C512.2 169.3 513.2 169.1 514.2 168.9C515.1 168.7 516.1 168.5 517.1 168.3C518.1 168.1 519.1 167.9 520.1 167.7C521.0 167.5 522.0 167.3 523.0 167.1C524.0 166.9 525.0 166.7 526.0 166.5C527.0 166.3 527.9 166.1 528.9 165.9C529.9 165.8 530.9 165.6 531.9 165.4C532.9 165.2 533.9 165.1 534.9 164.9C535.8 164.7 536.8 164.5 537.8 164.4C538.8 164.2 539.8 164.1 540.8 163.9C541.8 163.8 542.8 163.6 543.8 163.5C544.8 163.3 545.8 163.2 546.8 163.0C547.8 162.9 548.8 162.8 549.7 162.6C550.7 162.5 551.7 162.3 552.7 162.2C553.7 162.1 554.7 161.9 555.7 161.8C556.7 161.7 557.7 161.6 558.7 161.4C559.7 161.3 560.7 161.2 561.7 161.1C562.7 160.9 563.7 160.8 564.7 160.7C565.7 160.6 566.7 160.4 567.7 160.3C568.7 160.2 569.7 160.1 570.7 159.9C571.7 159.8 572.7 159.7 573.7 159.6C574.7 159.5 575.7 159.4 576.7 159.3C577.6 159.2 578.6 159.1 579.6 159.0C580.6 158.9 581.6 158.8 582.6 158.7C583.7 158.6 584.7 158.5 585.7 158.5C586.7 158.4 587.7 158.3 588.7 158.2C589.7 158.2 590.7 158.1 591.7 158.0C592.7 157.9 593.7 157.8 594.6 157.7C595.6 157.5 596.6 157.4 597.6 157.2C598.6 157.1 599.6 156.9 600.6 156.7C601.6 156.5 602.5 156.2 603.5 155.9C604.5 155.7 605.4 155.4 606.4 155.1C607.3 154.7 608.3 154.4 609.2 154.0C610.1 153.7 611.1 153.3 612.0 152.9C612.9 152.6 613.9 152.2 614.8 151.8C615.7 151.4 616.7 151.1 617.6 150.7C618.5 150.3 619.5 150.0 620.4 149.6C621.3 149.3 622.3 148.9 623.2 148.5C624.1 148.2 625.1 147.8 626.0 147.5C627.0 147.1 627.9 146.8 628.9 146.5C629.8 146.1 630.8 145.8 631.7 145.5C632.7 145.2 633.6 145.0 634.6 144.7C635.6 144.4 636.6 144.2 637.5 144.0C638.5 143.8 639.5 143.6 640.5 143.4C641.5 143.2 642.5 143.1 643.5 142.9C644.5 142.8 645.4 142.6 646.4 142.5C647.4 142.4 648.4 142.2 649.4 142.1C650.4 142.0 651.4 141.9 652.4 141.8C653.4 141.7 654.4 141.6 655.4 141.6C656.4 141.5 657.4 141.4 658.4 141.4C659.4 141.3 660.4 141.3 661.4 141.3C662.4 141.3 663.4 141.3 664.4 141.3C665.4 141.4 666.5 141.4 667.5 141.5C668.5 141.5 669.5 141.6 670.5 141.7C671.5 141.8 672.5 141.9 673.5 142.0C674.4 142.1 675.4 142.2 676.4 142.3C677.4 142.5 678.4 142.6 679.4 142.7C680.4 142.9 681.4 143.0 682.4 143.2C683.4 143.4 684.4 143.5 685.4 143.7C686.4 143.9 687.3 144.1 688.3 144.3C689.3 144.5 690.3 144.7 691.3 145.0C692.2 145.2 693.2 145.5 694.2 145.7C695.1 146.0 696.1 146.3 697.1 146.6C698.0 146.9 699.0 147.2 699.9 147.6C700.8 147.9 701.8 148.3 702.7 148.7C703.6 149.0 704.5 149.5 705.5 149.9C706.4 150.3 707.3 150.8 708.1 151.2C709.0 151.7 709.9 152.2 710.8 152.7C711.6 153.2 712.5 153.7 713.3 154.2C714.2 154.8 715.0 155.3 715.9 155.9C716.7 156.4 717.5 157.0 718.3 157.6C719.1 158.2 720.0 158.8 720.8 159.4C721.6 160.0 722.4 160.6 723.1 161.2C723.9 161.9 724.7 162.5 725.5 163.1C726.2 163.8 727.0 164.4 727.8 165.1C728.5 165.8 729.3 166.4 730.0 167.1C730.7 167.8 731.5 168.5 732.2 169.2C732.9 169.9 733.6 170.6 734.3 171.4C735.0 172.1 735.6 172.8 736.3 173.6C737.0 174.3 737.6 175.1 738.3 175.9C738.9 176.6 739.5 177.4 740.2 178.2C740.8 179.0 741.4 179.8 742.0 180.6C742.6 181.4 743.2 182.2 743.8 183.0C744.4 183.8 745.0 184.6 745.6 185.4C746.2 186.2 746.8 187.0 747.3 187.9C747.9 188.7 748.4 189.5 749.0 190.4C749.5 191.2 750.0 192.1 750.6 192.9C751.1 193.8 751.6 194.7 752.1 195.5C752.7 196.4 753.2 197.2 753.7 198.1C754.3 198.9 754.8 199.8 755.4 200.6C756.0 201.4 756.6 202.2 757.2 203.0C757.8 203.8 758.4 204.5 759.1 205.3C759.8 206.0 760.5 206.7 761.2 207.4C761.9 208.1 762.7 208.8 763.4 209.4C764.2 210.0 765.0 210.6 765.8 211.2C766.7 211.8 767.5 212.3 768.4 212.8C769.3 213.2 770.2 213.7 771.1 214.1C772.0 214.5 772.9 214.8 773.9 215.1C774.8 215.5 775.8 215.7 776.7 216.0C777.7 216.3 778.7 216.5 779.7 216.7C780.6 216.9 781.8 217.1 782.6 217.3C783.4 217.4 784.3 217.5 784.6 217.6"/>
<path d="M505.3 183.2C505.8 183.0 507.2 182.6 508.2 182.2C509.1 181.9 510.1 181.6 511.0 181.3C512.0 181.0 512.9 180.7 513.9 180.4C514.8 180.1 515.8 179.7 516.7 179.4C517.7 179.1 518.7 178.9 519.6 178.6C520.6 178.3 521.5 178.0 522.5 177.7C523.5 177.5 524.4 177.2 525.4 177.0C526.4 176.7 527.4 176.5 528.3 176.2C529.3 176.0 530.3 175.7 531.3 175.5C532.2 175.3 533.2 175.1 534.2 174.8C535.2 174.6 536.1 174.4 537.1 174.2C538.1 174.0 539.1 173.8 540.1 173.6C541.1 173.4 542.0 173.2 543.0 173.0C544.0 172.9 545.0 172.7 546.0 172.5C547.0 172.4 548.0 172.2 549.0 172.1C550.0 172.0 551.0 171.8 552.0 171.7C553.0 171.6 554.0 171.5 555.0 171.4C556.0 171.4 557.0 171.3 558.0 171.2C559.0 171.1 560.0 171.1 561.0 171.0C562.0 171.0 563.0 170.9 564.0 170.9C565.0 170.9 566.0 170.8 567.0 170.8C568.0 170.8 569.0 170.8 570.0 170.8C571.0 170.7 572.0 170.7 573.0 170.7C574.0 170.7 575.0 170.8 576.0 170.8C577.0 170.8 578.0 170.9 579.0 170.9C580.0 171.0 581.0 171.1 582.0 171.2C583.0 171.2 584.0 171.3 585.0 171.4C586.0 171.5 587.0 171.6 588.0 171.6C589.0 171.6 590.0 171.7 591.0 171.6C592.0 171.6 593.0 171.5 594.0 171.4C595.0 171.3 596.0 171.2 597.0 171.0C597.9 170.9 598.9 170.7 599.9 170.4C600.9 170.2 601.8 169.9 602.8 169.6C603.7 169.3 604.7 168.9 605.6 168.6C606.5 168.2 607.4 167.8 608.3 167.4C609.3 166.9 610.1 166.5 611.0 166.0C611.9 165.5 612.8 165.0 613.6 164.5C614.5 164.0 615.3 163.4 616.2 162.9C617.0 162.4 617.8 161.8 618.7 161.2C619.5 160.7 620.3 160.1 621.2 159.6C622.0 159.0 622.9 158.5 623.7 157.9C624.6 157.4 625.4 156.9 626.3 156.4C627.2 155.9 628.1 155.4 628.9 155.0C629.8 154.5 630.7 154.1 631.6 153.6C632.5 153.2 633.4 152.7 634.3 152.3C635.3 151.9 636.2 151.5 637.1 151.2C638.1 150.8 639.0 150.5 639.9 150.2C640.9 149.9 641.9 149.6 642.8 149.3C643.8 149.0 644.8 148.8 645.7 148.6C646.7 148.4 647.7 148.2 648.7 148.0C649.7 147.8 650.7 147.6 651.6 147.5C652.6 147.3 653.6 147.2 654.6 147.0C655.6 146.9 656.6 146.8 657.6 146.7C658.6 146.6 659.6 146.5 660.6 146.5C661.6 146.4 662.6 146.4 663.6 146.3C664.6 146.3 665.6 146.3 666.6 146.4C667.6 146.4 668.6 146.5 669.6 146.5C670.6 146.6 671.6 146.7 672.6 146.8C673.6 146.9 674.6 147.1 675.6 147.2C676.6 147.3 677.6 147.5 678.6 147.7C679.6 147.8 680.6 148.0 681.5 148.2C682.5 148.4 683.5 148.6 684.5 148.8C685.5 149.0 686.4 149.2 687.4 149.4C688.4 149.7 689.4 149.9 690.3 150.2C691.3 150.5 692.3 150.7 693.2 151.1C694.2 151.4 695.1 151.7 696.0 152.1C697.0 152.4 697.9 152.8 698.8 153.2C699.8 153.6 700.7 154.0 701.6 154.4C702.5 154.8 703.4 155.2 704.3 155.7C705.2 156.2 706.1 156.6 706.9 157.1C707.8 157.7 708.6 158.2 709.4 158.8C710.3 159.3 711.1 159.9 711.9 160.5C712.6 161.2 713.4 161.8 714.2 162.4C715.0 163.1 715.7 163.7 716.5 164.4C717.2 165.1 718.0 165.7 718.7 166.4C719.4 167.1 720.2 167.8 720.9 168.5C721.6 169.2 722.3 169.9 723.1 170.6C723.8 171.3 724.5 172.0 725.2 172.7C725.9 173.5 726.5 174.2 727.2 174.9C727.9 175.7 728.6 176.4 729.2 177.2C729.9 177.9 730.6 178.7 731.2 179.4C731.9 180.2 732.5 181.0 733.1 181.7C733.8 182.5 734.4 183.3 735.0 184.1C735.7 184.9 736.3 185.6 736.9 186.5C737.5 187.3 738.1 188.1 738.6 188.9C739.2 189.7 739.7 190.6 740.2 191.4C740.8 192.3 741.3 193.1 741.8 194.0C742.2 194.9 742.7 195.8 743.2 196.7C743.6 197.6 744.0 198.5 744.5 199.4C744.9 200.3 745.3 201.2 745.7 202.1C746.1 203.1 746.4 204.0 746.8 204.9C747.2 205.9 747.5 206.8 747.8 207.8C748.2 208.7 748.5 209.6 748.8 210.6C749.1 211.6 749.4 212.5 749.7 213.5C750.0 214.4 750.3 215.4 750.6 216.3C751.0 217.3 751.3 218.2 751.6 219.2C752.0 220.1 752.4 221.0 752.8 221.9C753.3 222.8 753.7 223.7 754.3 224.5C754.8 225.4 755.4 226.2 756.0 226.9C756.7 227.7 757.3 228.4 758.1 229.0C758.8 229.7 759.6 230.3 760.5 230.8C761.3 231.3 762.2 231.8 763.1 232.2C764.0 232.7 764.9 233.0 765.8 233.4C766.8 233.7 767.7 234.0 768.7 234.2C769.7 234.5 770.6 234.7 771.6 234.8C772.6 235.0 773.6 235.1 774.6 235.2C775.6 235.3 776.6 235.4 777.6 235.5C778.6 235.6 779.6 235.7 780.6 235.7C781.6 235.8 782.9 235.9 783.6 235.9C784.3 236.0 784.4 236.0 784.6 236.0"/>
<path d="M505.3 191.2C505.8 191.0 507.2 190.5 508.1 190.2C509.1 189.8 510.0 189.5 511.0 189.1C511.9 188.8 512.8 188.4 513.8 188.1C514.7 187.7 515.7 187.4 516.6 187.1C517.6 186.7 518.5 186.4 519.5 186.1C520.4 185.8 521.4 185.5 522.3 185.2C523.3 184.9 524.2 184.6 525.2 184.3C526.2 184.0 527.1 183.8 528.1 183.5C529.1 183.3 530.1 183.1 531.0 182.8C532.0 182.6 533.0 182.4 534.0 182.2C535.0 182.0 536.0 181.8 536.9 181.6C537.9 181.5 538.9 181.3 539.9 181.1C540.9 181.0 541.9 180.8 542.9 180.7C543.9 180.5 544.9 180.4 545.9 180.3C546.9 180.2 547.9 180.1 548.9 180.0C549.9 179.9 550.9 179.8 551.9 179.8C552.9 179.7 553.9 179.7 554.9 179.6C555.9 179.6 556.9 179.6 557.9 179.5C558.9 179.5 559.9 179.5 560.9 179.5C561.9 179.6 562.9 179.6 563.9 179.6C564.9 179.7 565.9 179.7 566.9 179.8C567.9 179.9 568.9 179.9 569.9 180.0C570.9 180.1 571.9 180.2 572.9 180.3C573.9 180.4 574.9 180.5 575.9 180.6C576.9 180.7 577.9 180.9 578.9 181.0C579.9 181.1 580.9 181.3 581.8 181.5C582.8 181.6 583.8 181.8 584.8 182.0C585.8 182.2 586.8 182.5 587.7 182.6C588.7 182.8 589.7 183.0 590.7 183.0C591.7 183.1 592.7 183.1 593.6 183.0C594.6 182.9 595.6 182.7 596.6 182.4C597.5 182.1 598.5 181.8 599.4 181.4C600.3 181.0 601.2 180.6 602.0 180.1C602.9 179.6 603.7 179.0 604.6 178.5C605.4 177.9 606.2 177.3 607.0 176.8C607.8 176.2 608.7 175.6 609.5 175.0C610.3 174.4 611.1 173.9 612.0 173.3C612.8 172.7 613.6 172.2 614.5 171.6C615.3 171.1 616.1 170.5 616.9 169.9C617.8 169.4 618.6 168.8 619.4 168.2C620.2 167.6 621.0 167.0 621.8 166.4C622.6 165.8 623.4 165.2 624.3 164.6C625.1 164.0 625.9 163.4 626.7 162.9C627.5 162.3 628.4 161.7 629.2 161.2C630.1 160.7 630.9 160.2 631.8 159.7C632.7 159.2 633.6 158.8 634.5 158.3C635.4 157.9 636.3 157.5 637.2 157.1C638.1 156.7 639.0 156.3 640.0 155.9C640.9 155.5 641.8 155.1 642.8 154.8C643.7 154.5 644.7 154.1 645.6 153.8C646.6 153.5 647.5 153.2 648.5 153.0C649.5 152.7 650.4 152.5 651.4 152.2C652.4 152.0 653.4 151.8 654.4 151.7C655.4 151.5 656.4 151.4 657.3 151.3C658.3 151.1 659.3 151.0 660.3 151.0C661.3 150.9 662.3 150.9 663.3 150.9C664.3 150.9 665.4 150.9 666.4 150.9C667.4 150.9 668.4 151.0 669.4 151.1C670.4 151.1 671.4 151.2 672.3 151.3C673.3 151.5 674.3 151.6 675.3 151.7C676.3 151.9 677.3 152.0 678.3 152.2C679.3 152.4 680.3 152.6 681.3 152.8C682.2 153.0 683.2 153.2 684.2 153.4C685.2 153.6 686.2 153.8 687.1 154.0C688.1 154.3 689.1 154.5 690.1 154.8C691.0 155.0 692.0 155.3 693.0 155.6C693.9 155.9 694.9 156.2 695.8 156.6C696.7 157.0 697.6 157.4 698.5 157.8C699.4 158.3 700.3 158.7 701.1 159.3C702.0 159.8 702.8 160.3 703.6 160.9C704.5 161.5 705.2 162.1 706.0 162.8C706.8 163.4 707.6 164.0 708.3 164.7C709.1 165.4 709.8 166.1 710.5 166.7C711.3 167.4 712.0 168.1 712.7 168.8C713.4 169.5 714.2 170.2 714.9 170.9C715.6 171.6 716.3 172.3 717.0 173.0C717.7 173.7 718.5 174.4 719.2 175.1C719.9 175.8 720.6 176.5 721.3 177.2C722.0 178.0 722.7 178.7 723.4 179.4C724.1 180.1 724.8 180.8 725.5 181.6C726.2 182.3 726.9 183.0 727.6 183.8C728.2 184.5 728.9 185.2 729.6 186.0C730.2 186.8 730.9 187.5 731.5 188.3C732.1 189.1 732.7 189.9 733.3 190.8C733.8 191.6 734.4 192.4 734.9 193.3C735.4 194.1 735.9 195.0 736.4 195.9C736.9 196.8 737.3 197.6 737.8 198.6C738.2 199.5 738.6 200.4 739.0 201.3C739.4 202.2 739.8 203.1 740.1 204.1C740.5 205.0 740.8 206.0 741.1 206.9C741.4 207.9 741.6 208.8 741.9 209.8C742.1 210.8 742.3 211.8 742.4 212.8C742.5 213.8 742.6 214.8 742.7 215.8C742.8 216.8 742.8 217.8 742.8 218.8C742.9 219.8 742.9 220.8 742.9 221.8C742.9 222.8 742.9 223.8 742.9 224.8C742.9 225.8 742.9 226.8 742.9 227.8C742.9 228.8 742.9 229.8 742.9 230.8C742.9 231.8 742.9 232.8 742.9 233.8C742.9 234.8 742.9 235.8 743.0 236.8C743.0 237.8 743.0 238.8 743.2 239.8C743.4 240.7 743.6 241.7 744.0 242.5C744.4 243.4 744.9 244.1 745.6 244.8C746.3 245.4 747.1 246.0 747.9 246.4C748.8 246.9 749.7 247.2 750.7 247.5C751.6 247.9 752.6 248.1 753.6 248.3C754.5 248.5 755.5 248.7 756.5 248.8C757.5 248.9 758.5 249.0 759.5 249.1C760.5 249.2 761.5 249.2 762.5 249.2C763.5 249.3 764.5 249.3 765.5 249.3C766.5 249.3 767.5 249.4 768.5 249.4C769.5 249.4 770.6 249.4 771.6 249.4C772.6 249.4 773.6 249.4 774.6 249.4C775.6 249.4 776.6 249.4 777.6 249.4C778.6 249.4 779.6 249.4 780.6 249.4C781.6 249.4 782.9 249.4 783.6 249.4C784.3 249.4 784.4 249.4 784.6 249.4"/>
<path d="M505.3 200.6C505.8 200.4 507.1 199.8 508.1 199.4C509.0 199.0 509.9 198.6 510.8 198.2C511.7 197.8 512.7 197.4 513.6 197.0C514.5 196.6 515.4 196.2 516.4 195.8C517.3 195.4 518.2 195.1 519.1 194.7C520.1 194.3 521.0 193.9 521.9 193.6C522.9 193.2 523.8 192.9 524.8 192.6C525.7 192.2 526.7 191.9 527.6 191.6C528.6 191.3 529.5 191.0 530.5 190.7C531.5 190.4 532.4 190.2 533.4 189.9C534.4 189.7 535.3 189.4 536.3 189.2C537.3 188.9 538.3 188.7 539.2 188.5C540.2 188.2 541.2 188.0 542.2 187.8C543.1 187.6 544.1 187.4 545.1 187.2C546.1 187.0 547.1 186.8 548.1 186.6C549.1 186.5 550.1 186.3 551.0 186.2C552.0 186.1 553.0 186.0 554.0 185.9C555.0 185.9 556.0 185.9 557.0 185.8C558.0 185.8 559.1 185.9 560.1 185.9C561.1 185.9 562.1 186.0 563.1 186.1C564.0 186.2 565.0 186.3 566.0 186.5C567.0 186.7 568.0 186.9 569.0 187.1C569.9 187.4 570.9 187.6 571.9 188.0C572.8 188.3 573.7 188.6 574.7 189.0C575.6 189.3 576.5 189.7 577.5 190.1C578.4 190.4 579.4 190.8 580.3 191.1C581.2 191.4 582.2 191.8 583.2 192.0C584.1 192.3 585.1 192.5 586.1 192.7C587.1 192.9 588.1 193.1 589.0 193.2C590.0 193.3 591.0 193.4 592.0 193.3C593.0 193.2 593.9 193.0 594.8 192.6C595.7 192.3 596.6 191.8 597.4 191.2C598.2 190.7 599.0 190.0 599.8 189.4C600.5 188.7 601.2 188.0 602.0 187.3C602.7 186.6 603.4 185.9 604.1 185.2C604.9 184.5 605.6 183.8 606.3 183.1C607.0 182.4 607.7 181.7 608.4 181.0C609.1 180.3 609.8 179.5 610.5 178.8C611.2 178.1 611.9 177.4 612.6 176.7C613.3 176.0 614.1 175.3 614.8 174.6C615.6 174.0 616.4 173.4 617.1 172.7C617.9 172.1 618.8 171.6 619.6 171.0C620.4 170.4 621.3 169.9 622.1 169.3C622.9 168.8 623.8 168.2 624.6 167.6C625.4 167.1 626.2 166.5 627.1 165.9C627.9 165.4 628.7 164.8 629.6 164.3C630.4 163.7 631.2 163.2 632.1 162.7C633.0 162.1 633.8 161.7 634.7 161.2C635.6 160.7 636.5 160.3 637.5 159.9C638.4 159.5 639.3 159.1 640.2 158.8C641.2 158.4 642.1 158.1 643.1 157.8C644.0 157.5 645.0 157.2 645.9 156.9C646.9 156.6 647.9 156.3 648.8 156.1C649.8 155.8 650.8 155.6 651.8 155.4C652.7 155.2 653.7 155.0 654.7 154.8C655.7 154.6 656.7 154.4 657.7 154.3C658.7 154.1 659.7 154.0 660.7 153.9C661.7 153.8 662.7 153.7 663.7 153.7C664.7 153.7 665.7 153.7 666.7 153.8C667.7 153.8 668.7 153.9 669.7 154.0C670.7 154.2 671.6 154.3 672.6 154.5C673.6 154.6 674.6 154.8 675.6 155.0C676.6 155.2 677.6 155.4 678.5 155.7C679.5 155.9 680.5 156.1 681.5 156.3C682.4 156.6 683.4 156.8 684.4 157.1C685.3 157.3 686.3 157.6 687.3 157.9C688.3 158.1 689.2 158.4 690.2 158.7C691.1 159.0 692.1 159.2 693.0 159.6C694.0 159.9 694.9 160.3 695.8 160.7C696.7 161.1 697.6 161.6 698.5 162.1C699.3 162.6 700.1 163.2 700.9 163.8C701.7 164.4 702.5 165.0 703.3 165.7C704.0 166.3 704.8 167.0 705.5 167.7C706.2 168.4 707.0 169.1 707.7 169.8C708.4 170.5 709.1 171.2 709.8 171.9C710.6 172.6 711.3 173.3 712.0 174.0C712.7 174.7 713.4 175.4 714.2 176.1C714.9 176.8 715.6 177.5 716.3 178.2C717.0 178.9 717.7 179.6 718.5 180.3C719.2 181.0 719.9 181.7 720.6 182.4C721.3 183.1 722.0 183.8 722.7 184.6C723.3 185.3 724.0 186.1 724.7 186.8C725.3 187.6 725.9 188.4 726.5 189.2C727.1 190.0 727.7 190.8 728.3 191.6C728.8 192.5 729.4 193.3 729.9 194.2C730.4 195.0 730.9 195.9 731.3 196.8C731.8 197.7 732.2 198.6 732.6 199.5C733.0 200.4 733.4 201.4 733.7 202.3C734.1 203.2 734.4 204.2 734.7 205.2C734.9 206.1 735.2 207.1 735.4 208.1C735.6 209.1 735.8 210.0 735.9 211.0C736.0 212.0 736.1 213.0 736.2 214.0C736.2 215.0 736.3 216.0 736.3 217.0C736.2 218.0 736.2 219.0 736.1 220.0C736.1 221.0 736.0 222.0 735.8 223.0C735.7 224.0 735.5 225.0 735.3 226.0C735.0 226.9 734.8 227.9 734.5 228.9C734.2 229.8 734.0 230.8 733.7 231.8C733.5 232.7 733.2 233.7 732.9 234.6C732.5 235.6 732.1 236.5 731.7 237.4C731.3 238.3 730.8 239.2 730.4 240.1C729.9 241.0 729.5 241.9 729.0 242.8C728.6 243.7 728.2 244.6 727.8 245.5C727.4 246.4 726.9 247.4 726.7 248.3C726.5 249.2 726.3 250.2 726.4 251.0C726.6 251.9 727.0 252.7 727.5 253.4C728.1 254.1 729.0 254.6 729.8 255.0C730.7 255.4 731.6 255.7 732.6 256.0C733.6 256.3 734.5 256.5 735.5 256.7C736.5 256.9 737.5 257.0 738.5 257.1C739.5 257.3 740.5 257.3 741.5 257.4C742.5 257.5 743.5 257.5 744.5 257.6C745.5 257.6 746.5 257.6 747.5 257.7C748.5 257.7 749.5 257.7 750.5 257.7C751.5 257.7 752.5 257.7 753.5 257.7C754.5 257.7 755.5 257.7 756.5 257.6C757.5 257.6 758.5 257.6 759.5 257.6C760.5 257.6 761.5 257.6 762.5 257.5C763.5 257.5 764.5 257.5 765.6 257.5C766.6 257.5 767.6 257.4 768.6 257.4C769.6 257.4 770.6 257.4 771.6 257.3C772.6 257.3 773.6 257.3 774.6 257.2C775.6 257.2 776.6 257.1 777.6 257.1C778.6 257.1 779.6 257.0 780.6 257.0C781.6 256.9 782.9 256.9 783.6 256.8C784.3 256.8 784.4 256.8 784.6 256.8"/>
<path d="M505.3 208.7C505.8 208.5 507.1 207.8 508.0 207.4C508.9 206.9 509.8 206.5 510.7 206.0C511.6 205.6 512.5 205.1 513.4 204.7C514.3 204.3 515.2 203.8 516.1 203.4C517.0 203.0 517.9 202.5 518.8 202.1C519.7 201.7 520.6 201.3 521.6 200.8C522.5 200.4 523.4 200.0 524.3 199.7C525.2 199.3 526.2 198.9 527.1 198.5C528.0 198.2 529.0 197.8 529.9 197.5C530.9 197.1 531.8 196.8 532.7 196.4C533.7 196.1 534.6 195.8 535.6 195.5C536.6 195.2 537.5 194.9 538.5 194.6C539.4 194.3 540.4 194.0 541.4 193.7C542.3 193.4 543.3 193.2 544.3 192.9C545.2 192.7 546.2 192.5 547.2 192.3C548.2 192.1 549.2 191.9 550.2 191.8C551.1 191.6 552.1 191.5 553.1 191.4C554.1 191.3 555.1 191.3 556.1 191.3C557.1 191.2 558.1 191.2 559.1 191.3C560.1 191.3 561.1 191.4 562.1 191.6C563.1 191.7 564.1 191.9 565.1 192.1C566.0 192.4 567.0 192.7 567.9 193.0C568.9 193.4 569.8 193.8 570.7 194.3C571.6 194.7 572.4 195.2 573.3 195.7C574.2 196.2 575.0 196.7 575.8 197.3C576.7 197.9 577.5 198.5 578.3 199.1C579.1 199.7 579.9 200.3 580.7 200.9C581.5 201.5 582.3 202.1 583.2 202.6C584.0 203.1 584.9 203.6 585.8 203.9C586.7 204.3 587.7 204.6 588.6 204.7C589.6 204.8 590.6 204.7 591.5 204.5C592.5 204.3 593.4 203.9 594.3 203.5C595.1 203.0 595.9 202.4 596.7 201.7C597.4 201.1 598.1 200.3 598.8 199.6C599.5 198.9 600.2 198.2 600.8 197.4C601.5 196.7 602.2 195.9 602.9 195.2C603.5 194.4 604.2 193.7 604.9 192.9C605.5 192.2 606.2 191.4 606.8 190.7C607.5 189.9 608.2 189.2 608.8 188.4C609.5 187.7 610.2 186.9 610.8 186.1C611.5 185.4 612.2 184.6 612.8 183.9C613.5 183.1 614.1 182.4 614.8 181.6C615.5 180.9 616.2 180.2 616.9 179.4C617.5 178.7 618.2 178.0 619.0 177.3C619.7 176.6 620.4 175.9 621.2 175.2C621.9 174.6 622.7 173.9 623.4 173.3C624.2 172.7 625.0 172.0 625.8 171.5C626.6 170.9 627.5 170.3 628.3 169.7C629.1 169.2 630.0 168.6 630.8 168.1C631.7 167.5 632.5 167.0 633.4 166.5C634.2 166.0 635.1 165.5 636.0 165.0C636.9 164.6 637.8 164.1 638.7 163.7C639.6 163.2 640.5 162.8 641.4 162.4C642.3 162.0 643.3 161.7 644.2 161.3C645.2 161.0 646.1 160.6 647.1 160.3C648.0 160.0 649.0 159.7 649.9 159.5C650.9 159.2 651.9 158.9 652.8 158.7C653.8 158.5 654.8 158.2 655.8 158.0C656.7 157.8 657.7 157.6 658.7 157.4C659.7 157.2 660.7 157.1 661.7 156.9C662.7 156.8 663.7 156.8 664.7 156.7C665.7 156.7 666.7 156.8 667.7 156.8C668.7 156.9 669.7 157.0 670.7 157.2C671.7 157.3 672.6 157.5 673.6 157.7C674.6 157.9 675.6 158.1 676.6 158.3C677.5 158.6 678.5 158.8 679.5 159.0C680.5 159.3 681.4 159.6 682.4 159.8C683.4 160.1 684.3 160.4 685.3 160.7C686.2 161.0 687.2 161.3 688.1 161.7C689.0 162.1 690.0 162.4 690.9 162.9C691.8 163.3 692.7 163.7 693.5 164.2C694.4 164.7 695.2 165.3 696.1 165.9C696.9 166.4 697.7 167.0 698.5 167.7C699.3 168.3 700.0 168.9 700.8 169.6C701.5 170.3 702.2 171.0 702.9 171.7C703.6 172.4 704.3 173.2 705.0 173.9C705.7 174.6 706.4 175.3 707.1 176.0C707.8 176.7 708.5 177.4 709.3 178.1C710.0 178.8 710.8 179.4 711.5 180.1C712.3 180.7 713.1 181.4 713.8 182.0C714.6 182.7 715.4 183.3 716.1 184.0C716.9 184.7 717.6 185.3 718.3 186.0C719.0 186.8 719.7 187.5 720.3 188.3C721.0 189.0 721.6 189.8 722.1 190.7C722.7 191.5 723.3 192.3 723.8 193.2C724.3 194.0 724.8 194.9 725.2 195.8C725.7 196.7 726.1 197.6 726.5 198.5C726.9 199.4 727.3 200.4 727.6 201.3C727.9 202.3 728.2 203.2 728.5 204.2C728.7 205.2 728.9 206.1 729.1 207.1C729.3 208.1 729.4 209.1 729.5 210.1C729.6 211.1 729.7 212.1 729.7 213.1C729.8 214.1 729.8 215.1 729.7 216.1C729.6 217.1 729.5 218.1 729.4 219.1C729.3 220.1 729.1 221.1 728.8 222.0C728.6 223.0 728.3 223.9 727.9 224.9C727.6 225.8 727.2 226.8 726.9 227.7C726.6 228.7 726.2 229.6 726.0 230.6C725.7 231.5 725.5 232.5 725.3 233.5C725.1 234.5 724.9 235.5 724.6 236.4C724.4 237.4 724.0 238.3 723.6 239.2C723.1 240.0 722.5 240.8 721.8 241.5C721.1 242.2 720.3 242.9 719.6 243.5C718.8 244.1 717.9 244.6 717.1 245.2C716.2 245.7 715.4 246.2 714.5 246.7C713.6 247.2 712.7 247.6 711.8 248.0C710.9 248.5 710.0 248.9 709.1 249.3C708.2 249.8 707.3 250.3 706.4 250.8C705.6 251.3 704.7 251.8 704.0 252.4C703.3 253.0 702.5 253.7 702.3 254.4C702.1 255.1 702.2 256.0 702.6 256.6C703.1 257.3 704.0 257.8 704.8 258.3C705.6 258.7 706.6 259.0 707.6 259.3C708.5 259.6 709.5 259.8 710.5 260.0C711.5 260.2 712.5 260.4 713.4 260.5C714.4 260.7 715.4 260.8 716.4 260.9C717.4 261.0 718.4 261.1 719.4 261.2C720.4 261.3 721.4 261.3 722.4 261.4C723.4 261.5 724.4 261.5 725.4 261.5C726.4 261.5 727.4 261.6 728.4 261.6C729.4 261.6 730.4 261.6 731.5 261.6C732.5 261.6 733.5 261.6 734.5 261.6C735.5 261.6 736.5 261.6 737.5 261.6C738.5 261.6 739.5 261.5 740.5 261.5C741.5 261.5 742.5 261.5 743.5 261.5C744.5 261.5 745.5 261.5 746.5 261.4C747.5 261.4 748.5 261.4 749.5 261.4C750.5 261.4 751.5 261.4 752.5 261.4C753.5 261.3 754.5 261.3 755.5 261.3C756.5 261.3 757.5 261.3 758.5 261.2C759.5 261.2 760.5 261.2 761.5 261.2C762.5 261.2 763.5 261.1 764.5 261.1C765.5 261.1 766.6 261.1 767.6 261.0C768.6 261.0 769.6 261.0 770.6 261.0C771.6 260.9 772.6 260.9 773.6 260.9C774.6 260.9 775.6 260.8 776.6 260.8C777.6 260.8 778.6 260.8 779.6 260.7C780.6 260.7 781.8 260.7 782.6 260.6C783.4 260.6 784.3 260.6 784.6 260.6"/>
<path d="M505.3 215.0C505.7 214.8 507.1 214.1 508.0 213.6C508.9 213.1 509.7 212.7 510.6 212.2C511.5 211.7 512.4 211.2 513.3 210.8C514.2 210.3 515.1 209.8 516.0 209.4C516.8 208.9 517.7 208.5 518.6 208.0C519.5 207.6 520.4 207.1 521.3 206.7C522.2 206.2 523.1 205.8 524.1 205.4C525.0 205.0 525.9 204.6 526.8 204.2C527.8 203.8 528.7 203.4 529.6 203.1C530.6 202.7 531.5 202.4 532.5 202.0C533.4 201.7 534.3 201.4 535.3 201.1C536.3 200.8 537.2 200.5 538.2 200.2C539.2 199.9 540.1 199.7 541.1 199.4C542.1 199.2 543.0 198.9 544.0 198.7C545.0 198.5 546.0 198.3 547.0 198.1C548.0 198.0 549.0 197.8 550.0 197.7C551.0 197.6 552.0 197.5 553.0 197.5C554.0 197.4 555.0 197.4 556.0 197.5C557.0 197.5 558.0 197.6 558.9 197.8C559.9 198.0 560.9 198.2 561.9 198.5C562.8 198.8 563.7 199.2 564.6 199.6C565.6 200.0 566.4 200.5 567.3 201.1C568.1 201.6 568.9 202.2 569.7 202.8C570.5 203.5 571.2 204.2 571.8 204.9C572.5 205.6 573.1 206.5 573.7 207.3C574.3 208.1 574.9 208.9 575.4 209.7C576.0 210.6 576.5 211.4 577.1 212.2C577.7 213.1 578.2 213.9 578.9 214.6C579.5 215.4 580.3 216.1 581.1 216.6C581.9 217.2 582.7 217.8 583.6 218.0C584.5 218.3 585.5 218.4 586.5 218.2C587.4 218.1 588.3 217.7 589.2 217.2C590.1 216.8 590.9 216.2 591.7 215.5C592.4 214.9 593.2 214.2 593.9 213.5C594.6 212.8 595.3 212.1 595.9 211.3C596.6 210.6 597.2 209.8 597.8 209.0C598.4 208.2 599.0 207.4 599.6 206.6C600.2 205.8 600.8 204.9 601.4 204.1C601.9 203.3 602.5 202.4 603.0 201.6C603.6 200.8 604.2 199.9 604.7 199.1C605.3 198.3 605.9 197.5 606.4 196.6C607.0 195.8 607.6 195.0 608.2 194.2C608.8 193.4 609.5 192.6 610.1 191.9C610.8 191.1 611.4 190.4 612.1 189.6C612.8 188.8 613.4 188.1 614.1 187.4C614.8 186.6 615.5 185.9 616.2 185.2C616.8 184.4 617.5 183.7 618.2 183.0C618.9 182.3 619.6 181.5 620.4 180.8C621.1 180.1 621.8 179.4 622.6 178.8C623.3 178.1 624.0 177.4 624.8 176.8C625.6 176.1 626.3 175.5 627.1 174.8C627.9 174.2 628.7 173.6 629.5 173.0C630.3 172.4 631.1 171.9 632.0 171.3C632.8 170.8 633.7 170.2 634.5 169.7C635.4 169.2 636.3 168.7 637.1 168.2C638.0 167.7 638.9 167.2 639.8 166.7C640.7 166.3 641.6 165.9 642.5 165.5C643.4 165.1 644.4 164.7 645.3 164.3C646.2 164.0 647.2 163.7 648.1 163.4C649.1 163.1 650.1 162.8 651.0 162.5C652.0 162.2 653.0 162.0 653.9 161.8C654.9 161.5 655.9 161.3 656.9 161.1C657.9 160.9 658.8 160.7 659.8 160.5C660.8 160.3 661.8 160.1 662.8 160.0C663.8 159.9 664.8 159.9 665.8 159.9C666.8 159.9 667.8 160.0 668.8 160.2C669.8 160.3 670.8 160.5 671.7 160.7C672.7 160.9 673.7 161.2 674.7 161.4C675.6 161.7 676.6 162.0 677.6 162.3C678.5 162.6 679.5 162.9 680.4 163.2C681.4 163.5 682.3 163.8 683.3 164.2C684.2 164.5 685.2 164.9 686.1 165.3C687.0 165.7 687.9 166.1 688.8 166.6C689.7 167.0 690.6 167.5 691.4 168.0C692.3 168.6 693.1 169.1 693.9 169.7C694.7 170.3 695.5 170.9 696.3 171.5C697.1 172.1 697.9 172.8 698.6 173.5C699.4 174.1 700.1 174.9 700.8 175.6C701.5 176.3 702.1 177.0 702.8 177.8C703.5 178.5 704.2 179.2 705.0 179.9C705.7 180.6 706.5 181.2 707.2 181.9C708.0 182.5 708.8 183.1 709.6 183.7C710.4 184.4 711.1 185.0 711.9 185.7C712.6 186.4 713.3 187.1 714.0 187.8C714.6 188.6 715.2 189.4 715.9 190.2C716.5 191.0 717.0 191.8 717.6 192.6C718.1 193.5 718.7 194.3 719.2 195.2C719.7 196.1 720.1 197.0 720.6 197.9C721.0 198.8 721.4 199.7 721.7 200.6C722.1 201.6 722.4 202.5 722.6 203.5C722.8 204.5 723.0 205.5 723.1 206.5C723.3 207.5 723.3 208.5 723.4 209.5C723.4 210.5 723.5 211.5 723.4 212.5C723.4 213.5 723.4 214.5 723.3 215.5C723.2 216.5 723.0 217.5 722.8 218.4C722.6 219.4 722.4 220.4 722.1 221.4C721.8 222.3 721.5 223.3 721.2 224.2C720.8 225.1 720.4 226.1 720.0 227.0C719.5 227.9 719.1 228.8 718.6 229.7C718.2 230.6 717.7 231.4 717.2 232.3C716.7 233.2 716.2 234.0 715.6 234.9C715.0 235.7 714.4 236.5 713.7 237.2C713.1 238.0 712.4 238.7 711.6 239.4C710.9 240.0 710.1 240.7 709.3 241.2C708.5 241.8 707.6 242.3 706.7 242.7C705.8 243.2 704.9 243.6 703.9 243.9C703.0 244.3 702.0 244.6 701.1 244.8C700.1 245.1 699.1 245.4 698.2 245.6C697.2 245.9 696.2 246.1 695.2 246.3C694.3 246.5 693.3 246.7 692.3 246.8C691.3 247.0 690.3 247.1 689.3 247.2C688.3 247.4 687.3 247.4 686.3 247.5C685.3 247.6 684.3 247.7 683.3 247.7C682.3 247.8 681.3 247.9 680.3 248.0C679.3 248.1 678.3 248.2 677.3 248.4C676.3 248.6 675.3 248.7 674.4 249.0C673.5 249.3 672.4 249.7 672.0 250.2C671.5 250.8 671.3 251.5 671.5 252.1C671.8 252.8 672.7 253.4 673.5 253.9C674.2 254.4 675.2 254.8 676.1 255.2C677.1 255.6 678.0 256.0 679.0 256.3C679.9 256.6 680.9 256.9 681.8 257.2C682.8 257.5 683.7 257.8 684.7 258.1C685.7 258.4 686.6 258.7 687.6 258.9C688.6 259.2 689.5 259.5 690.5 259.7C691.5 260.0 692.4 260.3 693.4 260.5C694.4 260.8 695.4 261.0 696.3 261.2C697.3 261.4 698.3 261.6 699.3 261.7C700.3 261.8 701.3 262.0 702.3 262.1C703.3 262.2 704.3 262.2 705.3 262.3C706.3 262.4 707.3 262.4 708.3 262.5C709.3 262.6 710.3 262.6 711.3 262.6C712.3 262.7 713.3 262.7 714.3 262.7C715.3 262.7 716.3 262.8 717.3 262.8C718.3 262.8 719.3 262.8 720.3 262.8C721.3 262.8 722.4 262.8 723.4 262.9C724.4 262.9 725.4 262.9 726.4 262.9C727.4 262.9 728.4 262.9 729.4 262.9C730.4 262.9 731.4 262.9 732.4 262.9C733.4 262.9 734.4 262.9 735.4 262.9C736.4 262.9 737.4 262.9 738.4 262.9C739.4 262.9 740.4 262.9 741.4 262.9C742.4 262.9 743.4 262.9 744.4 262.9C745.4 262.9 746.4 262.8 747.5 262.8C748.5 262.8 749.5 262.8 750.5 262.8C751.5 262.8 752.5 262.8 753.5 262.8C754.5 262.8 755.5 262.8 756.5 262.8C757.5 262.7 758.5 262.7 759.5 262.7C760.5 262.7 761.5 262.7 762.5 262.7C763.5 262.7 764.5 262.7 765.5 262.6C766.5 262.6 767.5 262.6 768.5 262.6C769.5 262.6 770.5 262.6 771.5 262.6C772.6 262.6 773.6 262.5 774.6 262.5C775.6 262.5 776.6 262.5 777.6 262.5C778.6 262.5 779.6 262.5 780.6 262.4C781.6 262.4 782.9 262.4 783.6 262.4C784.3 262.4 784.4 262.4 784.6 262.4"/>
<path d="M505.3 220.6C505.7 220.4 507.1 219.7 508.0 219.2C508.9 218.8 509.8 218.3 510.7 217.8C511.5 217.4 512.4 216.9 513.3 216.4C514.2 216.0 515.1 215.5 516.0 215.1C516.9 214.6 517.8 214.2 518.7 213.7C519.6 213.3 520.5 212.8 521.4 212.4C522.3 211.9 523.2 211.5 524.1 211.1C525.0 210.6 525.9 210.2 526.9 209.8C527.8 209.4 528.7 209.0 529.6 208.7C530.6 208.3 531.5 207.9 532.4 207.5C533.4 207.2 534.3 206.8 535.3 206.5C536.2 206.2 537.2 205.8 538.1 205.5C539.1 205.2 540.0 204.9 541.0 204.7C542.0 204.4 542.9 204.1 543.9 203.9C544.9 203.7 545.9 203.5 546.9 203.4C547.9 203.3 548.9 203.2 549.9 203.2C550.9 203.1 551.9 203.2 552.9 203.3C553.9 203.4 554.9 203.6 555.8 203.8C556.8 204.1 557.7 204.4 558.7 204.8C559.6 205.2 560.5 205.7 561.3 206.2C562.1 206.7 562.9 207.3 563.7 208.0C564.4 208.7 565.0 209.5 565.6 210.3C566.1 211.1 566.6 212.0 567.0 212.9C567.4 213.8 567.8 214.8 568.0 215.8C568.3 216.7 568.4 217.7 568.6 218.7C568.8 219.7 569.0 220.7 569.2 221.7C569.4 222.6 569.6 223.6 569.8 224.6C570.1 225.6 570.3 226.5 570.6 227.5C570.9 228.5 571.2 229.4 571.4 230.4C571.7 231.4 572.0 232.3 572.3 233.3C572.6 234.3 572.8 235.3 573.2 236.1C573.7 237.0 574.2 238.0 574.8 238.6C575.5 239.2 576.4 239.7 577.2 239.8C578.1 239.9 579.0 239.6 579.9 239.2C580.7 238.8 581.5 238.1 582.3 237.5C583.1 236.8 583.7 236.1 584.4 235.3C585.1 234.6 585.7 233.8 586.4 233.0C587.0 232.3 587.6 231.5 588.2 230.7C588.9 229.9 589.5 229.1 590.1 228.3C590.7 227.5 591.2 226.7 591.8 225.9C592.4 225.0 593.0 224.2 593.6 223.4C594.2 222.6 594.8 221.8 595.4 221.0C596.0 220.2 596.6 219.4 597.2 218.5C597.7 217.7 598.3 216.9 598.9 216.1C599.5 215.3 600.1 214.4 600.6 213.6C601.2 212.8 601.8 212.0 602.3 211.1C602.9 210.3 603.5 209.5 604.0 208.7C604.6 207.8 605.2 207.0 605.8 206.2C606.3 205.4 606.9 204.5 607.5 203.7C608.1 202.9 608.7 202.1 609.3 201.3C609.9 200.5 610.5 199.7 611.1 198.9C611.7 198.1 612.3 197.3 612.9 196.5C613.5 195.7 614.1 194.9 614.7 194.1C615.4 193.3 616.0 192.5 616.7 191.8C617.3 191.0 618.0 190.3 618.7 189.5C619.3 188.8 620.0 188.0 620.7 187.3C621.3 186.5 622.0 185.8 622.7 185.1C623.4 184.3 624.1 183.6 624.8 182.9C625.5 182.2 626.2 181.5 627.0 180.8C627.7 180.1 628.5 179.5 629.2 178.8C630.0 178.2 630.8 177.5 631.6 176.9C632.4 176.3 633.2 175.7 634.0 175.1C634.8 174.5 635.6 174.0 636.5 173.4C637.3 172.9 638.2 172.4 639.1 171.9C639.9 171.4 640.8 170.9 641.7 170.4C642.6 170.0 643.5 169.5 644.4 169.1C645.3 168.7 646.2 168.3 647.2 167.9C648.1 167.5 649.0 167.1 650.0 166.8C650.9 166.5 651.9 166.1 652.8 165.8C653.8 165.5 654.8 165.3 655.7 165.1C656.7 164.8 657.7 164.6 658.7 164.4C659.7 164.3 660.7 164.1 661.7 164.0C662.7 163.9 663.7 163.8 664.7 163.7C665.7 163.6 666.7 163.6 667.7 163.6C668.7 163.7 669.7 163.7 670.7 163.8C671.7 163.9 672.7 164.1 673.6 164.3C674.6 164.5 675.6 164.7 676.6 165.0C677.5 165.2 678.5 165.5 679.4 165.9C680.4 166.2 681.3 166.6 682.2 167.0C683.1 167.4 684.0 167.9 684.9 168.4C685.7 168.9 686.6 169.5 687.4 170.0C688.3 170.5 689.1 171.1 690.0 171.6C690.9 172.1 691.7 172.6 692.6 173.1C693.4 173.6 694.3 174.2 695.1 174.7C696.0 175.3 696.8 175.8 697.6 176.5C698.4 177.1 699.1 177.8 699.9 178.4C700.6 179.1 701.3 179.9 702.0 180.6C702.7 181.3 703.3 182.1 704.0 182.8C704.6 183.6 705.3 184.4 705.9 185.2C706.5 186.0 707.1 186.8 707.6 187.6C708.2 188.4 708.7 189.3 709.2 190.2C709.7 191.0 710.2 191.9 710.6 192.8C711.1 193.7 711.5 194.6 711.9 195.6C712.2 196.5 712.6 197.4 713.0 198.4C713.3 199.3 713.6 200.3 713.9 201.2C714.2 202.2 714.5 203.2 714.7 204.1C715.0 205.1 715.4 206.4 715.5 207.0C715.7 207.7 715.8 207.8 715.8 208.0"/>
<path d="M505.3 226.5C505.8 226.3 507.1 225.7 508.0 225.2C508.9 224.8 509.9 224.4 510.8 224.0C511.7 223.6 512.6 223.2 513.5 222.7C514.4 222.3 515.3 221.9 516.2 221.5C517.2 221.1 518.1 220.6 519.0 220.2C519.9 219.8 520.8 219.3 521.7 218.9C522.6 218.5 523.5 218.0 524.4 217.6C525.3 217.1 526.2 216.7 527.1 216.3C528.0 215.8 528.9 215.4 529.8 215.0C530.7 214.6 531.6 214.2 532.6 213.8C533.5 213.4 534.4 213.0 535.3 212.6C536.3 212.2 537.2 211.9 538.2 211.6C539.1 211.2 540.1 210.9 541.0 210.7C542.0 210.5 543.0 210.4 544.0 210.3C545.0 210.3 546.0 210.3 547.0 210.5C548.0 210.6 549.0 210.9 549.9 211.2C550.8 211.6 551.7 212.0 552.6 212.5C553.4 213.1 554.2 213.7 555.0 214.3C555.7 215.0 556.4 215.7 557.0 216.5C557.6 217.3 558.2 218.2 558.6 219.0C559.1 219.9 559.5 220.8 559.8 221.8C560.1 222.7 560.3 223.7 560.4 224.7C560.4 225.7 560.3 226.7 560.1 227.6C559.9 228.6 559.4 229.5 559.0 230.4C558.6 231.3 558.1 232.2 557.6 233.1C557.1 233.9 556.7 234.8 556.2 235.7C555.7 236.6 555.1 237.4 554.6 238.3C554.1 239.1 553.6 240.0 553.1 240.9C552.6 241.7 552.1 242.6 551.7 243.5C551.3 244.5 551.0 245.4 550.7 246.4C550.5 247.3 550.2 248.3 550.2 249.3C550.2 250.3 550.3 251.3 550.7 252.2C551.0 253.1 551.5 254.0 552.1 254.7C552.8 255.4 553.7 256.0 554.5 256.5C555.4 256.9 556.3 257.3 557.3 257.6C558.2 257.9 559.2 258.1 560.2 258.3C561.2 258.5 562.2 258.7 563.2 258.8C564.1 259.0 565.1 259.1 566.1 259.2C567.1 259.2 568.1 259.3 569.1 259.3C570.1 259.3 571.1 259.2 572.1 259.1C573.1 258.9 574.1 258.8 575.1 258.5C576.1 258.3 577.0 258.0 578.0 257.7C578.9 257.3 579.8 256.9 580.6 256.3C581.5 255.8 582.3 255.2 583.1 254.6C583.8 253.9 584.6 253.2 585.3 252.5C586.0 251.8 586.6 251.1 587.3 250.3C587.9 249.5 588.5 248.7 589.0 247.8C589.6 247.0 590.0 246.1 590.5 245.2C591.0 244.4 591.5 243.5 591.9 242.6C592.4 241.7 592.8 240.8 593.2 239.9C593.7 239.0 594.1 238.0 594.5 237.1C594.9 236.2 595.4 235.3 595.8 234.5C596.3 233.6 596.8 232.7 597.3 231.8C597.8 231.0 598.4 230.1 598.9 229.3C599.4 228.4 599.9 227.5 600.4 226.7C600.9 225.8 601.4 224.9 601.9 224.1C602.4 223.2 602.9 222.3 603.4 221.5C604.0 220.6 604.5 219.7 605.0 218.9C605.5 218.0 606.0 217.1 606.5 216.3C607.0 215.4 607.5 214.6 608.0 213.7C608.5 212.8 609.0 212.0 609.5 211.1C610.1 210.2 610.6 209.4 611.1 208.5C611.6 207.7 612.2 206.8 612.8 206.0C613.4 205.2 614.0 204.4 614.6 203.6C615.3 202.9 615.9 202.1 616.6 201.4C617.3 200.6 618.0 199.9 618.6 199.2C619.3 198.5 620.0 197.7 620.7 197.0C621.4 196.3 622.1 195.5 622.8 194.8C623.4 194.0 624.1 193.3 624.7 192.5C625.4 191.8 626.0 191.0 626.7 190.2C627.3 189.5 628.0 188.7 628.7 188.0C629.4 187.3 630.1 186.5 630.8 185.9C631.5 185.2 632.3 184.5 633.1 183.8C633.8 183.2 634.6 182.6 635.4 181.9C636.2 181.3 637.0 180.7 637.8 180.1C638.6 179.5 639.4 178.9 640.2 178.3C641.0 177.8 641.8 177.2 642.7 176.6C643.5 176.1 644.4 175.6 645.2 175.1C646.1 174.5 647.0 174.0 647.8 173.6C648.7 173.1 649.6 172.6 650.5 172.2C651.4 171.8 652.4 171.4 653.3 171.1C654.3 170.7 655.2 170.4 656.2 170.2C657.1 169.9 658.1 169.6 659.1 169.4C660.1 169.2 661.0 169.0 662.0 168.8C663.0 168.6 664.0 168.4 665.0 168.2C666.0 168.1 667.0 167.9 668.0 167.9C669.0 167.9 670.0 168.0 671.0 168.1C672.0 168.2 672.9 168.3 673.9 168.5C674.9 168.6 675.9 168.8 676.9 168.9C677.9 169.1 678.9 169.3 679.9 169.5C680.9 169.6 681.8 169.8 682.8 170.0C683.8 170.3 684.8 170.5 685.7 170.8C686.7 171.0 687.7 171.3 688.6 171.7C689.5 172.0 690.5 172.4 691.4 172.8C692.3 173.3 693.2 173.7 694.1 174.2C694.9 174.7 695.8 175.2 696.6 175.8C697.4 176.4 698.2 177.0 699.0 177.6C699.8 178.3 700.5 178.9 701.2 179.7C701.9 180.4 702.6 181.1 703.3 181.9C703.9 182.6 704.6 183.4 705.2 184.2C705.8 185.0 706.4 185.8 707.0 186.6C707.5 187.4 708.1 188.2 708.6 189.1C709.1 190.0 709.6 190.8 710.1 191.7C710.6 192.6 711.0 193.5 711.4 194.4C711.8 195.4 712.2 196.3 712.5 197.2C712.9 198.1 713.3 199.1 713.6 200.0C714.0 200.9 714.4 201.9 714.7 202.8C715.0 203.8 715.2 204.8 715.4 205.7C715.6 206.7 715.7 207.7 715.8 208.7C715.9 209.7 715.9 210.7 715.8 211.7C715.8 212.7 715.7 213.7 715.6 214.7C715.5 215.7 715.3 216.7 715.1 217.7C714.9 218.7 714.6 219.6 714.3 220.6C714.0 221.5 713.6 222.5 713.2 223.4C712.8 224.3 712.4 225.2 711.9 226.1C711.4 227.0 710.9 227.9 710.4 228.7C709.8 229.5 709.2 230.3 708.6 231.1C707.9 231.8 707.2 232.5 706.4 233.2C705.7 233.8 704.9 234.4 704.0 234.9C703.2 235.5 702.3 235.9 701.4 236.4C700.5 236.8 699.6 237.2 698.6 237.6C697.7 238.0 696.8 238.3 695.8 238.6C694.9 239.0 693.9 239.3 692.9 239.5C692.0 239.8 691.0 240.0 690.0 240.2C689.0 240.3 688.0 240.4 687.0 240.5C686.0 240.6 685.0 240.6 684.0 240.6C683.0 240.6 682.0 240.6 681.0 240.5C680.0 240.4 679.0 240.3 678.0 240.1C677.0 240.0 676.0 239.8 675.1 239.6C674.1 239.4 673.1 239.2 672.1 238.9C671.2 238.6 670.2 238.3 669.3 237.9C668.3 237.6 667.4 237.2 666.5 236.8C665.6 236.4 664.7 236.0 663.8 235.5C662.9 235.1 662.0 234.6 661.2 234.1C660.3 233.5 659.5 233.0 658.6 232.4C657.8 231.8 657.0 231.2 656.3 230.6C655.5 229.9 654.8 229.3 654.0 228.6C653.3 227.9 652.5 227.2 651.8 226.5C651.1 225.8 650.4 225.1 649.7 224.4C649.0 223.7 648.4 222.9 647.6 222.2C646.9 221.6 646.0 220.9 645.2 220.5C644.4 220.1 643.3 219.7 642.6 219.9C641.8 220.0 641.0 220.7 640.4 221.4C639.9 222.1 639.6 223.1 639.3 224.1C639.0 225.0 638.8 226.0 638.7 227.0C638.6 228.0 638.6 229.0 638.6 230.0C638.7 231.0 638.7 232.0 638.8 233.0C639.0 234.0 639.1 235.0 639.4 236.0C639.6 236.9 639.9 237.9 640.3 238.8C640.8 239.7 641.3 240.5 641.9 241.3C642.5 242.1 643.2 242.8 643.9 243.5C644.6 244.2 645.4 244.8 646.2 245.4C647.1 246.0 647.9 246.6 648.8 247.1C649.6 247.6 650.5 248.1 651.4 248.6C652.2 249.0 653.1 249.5 654.0 250.0C654.9 250.5 655.8 251.0 656.6 251.4C657.5 251.9 658.4 252.5 659.3 253.0C660.1 253.5 661.0 254.0 661.9 254.4C662.8 254.9 663.7 255.3 664.6 255.8C665.5 256.2 666.4 256.6 667.3 257.0C668.2 257.4 669.1 257.8 670.1 258.2C671.0 258.6 671.9 259.0 672.9 259.3C673.8 259.7 674.7 260.0 675.7 260.3C676.7 260.6 677.6 260.9 678.6 261.1C679.6 261.4 680.5 261.6 681.5 261.9C682.5 262.1 683.5 262.3 684.5 262.5C685.4 262.7 686.4 262.8 687.4 263.0C688.4 263.2 689.4 263.3 690.4 263.4C691.4 263.6 692.4 263.7 693.4 263.8C694.4 263.9 695.4 264.0 696.4 264.1C697.4 264.2 698.4 264.3 699.4 264.4C700.4 264.5 701.4 264.6 702.4 264.6C703.4 264.7 704.4 264.8 705.4 264.8C706.4 264.9 707.4 265.0 708.4 265.0C709.4 265.1 710.4 265.1 711.4 265.2C712.4 265.2 713.4 265.3 714.4 265.3C715.4 265.3 716.4 265.4 717.4 265.4C718.4 265.4 719.4 265.5 720.4 265.5C721.4 265.5 722.4 265.6 723.4 265.6C724.4 265.6 725.4 265.6 726.4 265.6C727.4 265.7 728.4 265.7 729.4 265.7C730.4 265.7 731.4 265.7 732.4 265.7C733.4 265.7 734.4 265.7 735.5 265.7C736.5 265.7 737.5 265.7 738.5 265.7C739.5 265.7 740.5 265.7 741.5 265.7C742.5 265.7 743.5 265.7 744.5 265.7C745.5 265.7 746.5 265.7 747.5 265.7C748.5 265.7 749.5 265.7 750.5 265.7C751.5 265.7 752.5 265.7 753.5 265.7C754.5 265.7 755.5 265.7 756.5 265.7C757.5 265.7 758.5 265.7 759.5 265.7C760.5 265.7 761.5 265.7 762.5 265.7C763.5 265.6 764.5 265.6 765.5 265.6C766.5 265.6 767.5 265.6 768.6 265.6C769.6 265.6 770.6 265.6 771.6 265.6C772.6 265.6 773.6 265.6 774.6 265.6C775.6 265.6 776.6 265.6 777.6 265.6C778.6 265.5 779.6 265.5 780.6 265.5C781.6 265.5 782.9 265.5 783.6 265.5C784.3 265.5 784.4 265.5 784.6 265.5"/>
<path d="M613.5 205.0C613.8 204.6 614.9 203.5 615.6 202.8C616.3 202.1 617.0 201.4 617.7 200.7C618.5 200.0 619.2 199.3 620.0 198.7C620.8 198.1 621.7 197.6 622.5 197.0C623.3 196.4 624.2 195.9 625.0 195.2C625.8 194.6 626.6 194.0 627.3 193.3C628.1 192.7 628.8 191.9 629.5 191.3C630.3 190.6 631.0 189.9 631.9 189.4C632.7 188.9 633.6 188.3 634.5 188.0C635.4 187.7 636.6 187.3 637.3 187.5C638.1 187.7 638.8 188.6 639.1 189.3C639.5 190.1 639.4 191.3 639.3 192.3C639.2 193.3 639.0 194.3 638.6 195.2C638.3 196.2 637.8 197.0 637.3 197.9C636.8 198.8 636.2 199.6 635.7 200.5C635.2 201.4 634.6 202.2 634.1 203.1C633.6 204.0 633.2 204.9 632.8 205.8C632.3 206.7 631.9 207.6 631.5 208.5C631.1 209.5 630.8 210.4 630.4 211.3C630.1 212.3 629.8 213.2 629.5 214.2C629.3 215.2 629.1 216.2 628.9 217.2C628.8 218.2 628.6 219.2 628.6 220.2C628.5 221.2 628.4 222.2 628.4 223.2C628.4 224.2 628.4 225.2 628.4 226.2C628.5 227.2 628.6 228.2 628.7 229.2C628.8 230.2 628.8 231.2 629.0 232.2C629.2 233.2 629.3 234.2 629.7 235.1C630.1 236.1 630.6 236.9 631.2 237.7C631.8 238.5 632.5 239.2 633.3 239.9C634.0 240.6 634.8 241.2 635.7 241.8C636.5 242.4 637.3 242.9 638.2 243.4C639.1 244.0 639.9 244.5 640.8 244.9C641.7 245.4 642.6 245.9 643.5 246.4C644.3 246.9 645.2 247.3 646.1 247.8C647.0 248.3 647.9 248.8 648.8 249.3C649.7 249.7 650.5 250.3 651.4 250.8C652.3 251.3 653.1 251.8 654.0 252.3C654.9 252.8 655.8 253.3 656.6 253.8C657.5 254.3 658.4 254.7 659.3 255.2C660.2 255.6 661.1 256.0 662.1 256.5C663.0 256.9 663.9 257.3 664.8 257.7C665.7 258.1 666.7 258.5 667.6 258.9C668.5 259.3 669.5 259.7 670.4 260.0C671.3 260.3 672.3 260.7 673.3 261.0C674.2 261.3 675.2 261.5 676.2 261.8C677.1 262.1 678.1 262.3 679.1 262.5C680.1 262.8 681.1 263.0 682.1 263.2C683.0 263.4 684.0 263.6 685.0 263.8C686.0 264.0 687.0 264.2 688.0 264.3C689.0 264.5 690.0 264.6 691.0 264.8C692.0 264.9 693.0 265.0 694.0 265.2C695.0 265.3 696.0 265.4 697.0 265.5C698.0 265.6 699.0 265.7 700.0 265.8C701.0 265.9 702.0 266.0 703.0 266.0C704.0 266.1 705.0 266.1 706.0 266.2C707.0 266.3 708.0 266.3 709.0 266.4C710.0 266.4 711.1 266.5 712.1 266.5C713.1 266.5 714.1 266.6 715.1 266.6C716.1 266.7 717.1 266.7 718.1 266.7C719.1 266.8 720.1 266.8 721.1 266.8C722.1 266.9 723.1 266.9 724.1 266.9C725.2 267.0 726.2 267.0 727.2 267.0C728.2 267.0 729.2 267.1 730.2 267.1C731.2 267.1 732.2 267.1 733.2 267.1C734.2 267.1 735.2 267.2 736.2 267.2C737.2 267.2 738.2 267.2 739.3 267.2C740.3 267.2 741.3 267.2 742.3 267.2C743.3 267.3 744.3 267.3 745.3 267.3C746.3 267.3 747.3 267.3 748.3 267.3C749.3 267.3 750.3 267.3 751.3 267.3C752.4 267.3 753.4 267.3 754.4 267.3C755.4 267.3 756.4 267.3 757.4 267.3C758.4 267.3 759.4 267.3 760.4 267.3C761.4 267.3 762.4 267.3 763.4 267.3C764.4 267.3 765.5 267.3 766.5 267.3C767.5 267.3 768.5 267.3 769.5 267.3C770.5 267.3 771.5 267.3 772.5 267.3C773.5 267.3 774.5 267.3 775.5 267.2C776.5 267.2 777.5 267.2 778.6 267.2C779.6 267.2 780.6 267.2 781.6 267.2C782.6 267.2 784.1 267.2 784.6 267.2"/>
<path d="M505.3 236.6C505.7 236.4 507.1 235.7 508.0 235.2C508.9 234.7 509.7 234.3 510.6 233.8C511.5 233.3 512.4 232.9 513.3 232.4C514.2 232.0 515.1 231.5 516.0 231.1C516.9 230.6 517.8 230.2 518.7 229.7C519.6 229.3 520.6 228.9 521.5 228.5C522.4 228.1 523.3 227.7 524.2 227.3C525.2 227.0 526.1 226.6 527.0 226.2C528.0 225.9 528.9 225.5 529.9 225.2C530.8 224.9 531.8 224.6 532.8 224.3C533.7 224.0 534.7 223.8 535.7 223.7C536.7 223.5 537.7 223.4 538.7 223.5C539.6 223.6 540.7 223.9 541.5 224.3C542.3 224.8 543.1 225.5 543.5 226.3C543.8 227.1 543.8 228.1 543.6 229.0C543.5 229.9 542.9 230.8 542.4 231.7C542.0 232.6 541.4 233.4 540.8 234.2C540.2 235.1 539.7 235.9 539.1 236.7C538.5 237.5 537.9 238.3 537.3 239.2C536.8 240.0 536.2 240.8 535.7 241.7C535.2 242.6 534.7 243.5 534.4 244.4C534.0 245.3 533.6 246.3 533.4 247.2C533.2 248.2 533.1 249.2 533.2 250.2C533.2 251.2 533.4 252.2 533.7 253.1C534.0 254.1 534.4 255.0 535.0 255.8C535.5 256.6 536.3 257.3 537.0 258.0C537.8 258.6 538.7 259.1 539.5 259.6C540.4 260.1 541.3 260.5 542.2 260.9C543.2 261.3 544.1 261.6 545.1 262.0C546.0 262.3 547.0 262.5 548.0 262.8C548.9 263.0 549.9 263.3 550.9 263.5C551.9 263.7 552.9 263.9 553.9 264.0C554.9 264.2 555.9 264.3 556.9 264.4C557.9 264.5 558.9 264.6 559.9 264.7C560.9 264.8 561.9 264.8 562.9 264.9C563.9 264.9 564.9 264.9 565.9 264.9C566.9 264.9 567.9 264.9 568.9 264.8C569.9 264.8 570.9 264.8 571.9 264.7C572.9 264.6 573.9 264.5 574.9 264.4C575.9 264.3 576.9 264.1 577.9 263.9C578.9 263.7 579.8 263.5 580.8 263.2C581.7 262.9 582.7 262.5 583.6 262.1C584.5 261.7 585.4 261.3 586.3 260.8C587.2 260.3 588.0 259.8 588.9 259.2C589.7 258.7 590.5 258.1 591.3 257.4C592.0 256.8 592.7 256.1 593.4 255.3C594.1 254.6 594.7 253.8 595.3 253.0C595.9 252.2 596.5 251.3 597.0 250.5C597.6 249.6 598.1 248.8 598.7 248.0C599.2 247.1 599.7 246.2 600.2 245.4C600.7 244.5 601.2 243.6 601.6 242.7C602.1 241.8 602.5 240.9 602.9 240.0C603.3 239.1 603.6 238.1 604.0 237.2C604.4 236.3 604.8 235.3 605.2 234.4C605.7 233.5 606.1 232.6 606.6 231.8C607.1 230.9 607.6 230.0 608.1 229.1C608.6 228.3 609.1 227.4 609.6 226.5C610.2 225.7 610.7 224.8 611.3 224.0C611.9 223.3 612.6 222.4 613.3 222.1C614.1 221.8 615.0 221.8 615.7 222.2C616.3 222.7 616.9 223.7 617.3 224.5C617.8 225.4 618.1 226.4 618.5 227.3C618.8 228.2 619.2 229.2 619.5 230.1C619.9 231.1 620.2 232.0 620.6 232.9C621.1 233.8 621.5 234.7 622.0 235.6C622.5 236.5 623.0 237.4 623.5 238.2C624.0 239.1 624.6 239.9 625.2 240.8C625.7 241.6 626.3 242.4 626.9 243.2C627.5 244.0 628.2 244.8 628.8 245.5C629.5 246.3 630.2 247.0 630.9 247.7C631.6 248.4 632.4 249.1 633.2 249.7C633.9 250.3 634.8 250.9 635.6 251.4C636.5 251.9 637.4 252.4 638.3 252.9C639.1 253.4 640.0 253.8 640.9 254.3C641.8 254.7 642.7 255.2 643.6 255.6C644.5 256.0 645.5 256.5 646.4 256.8C647.3 257.2 648.2 257.6 649.2 258.0C650.1 258.3 651.1 258.7 652.0 259.0C652.9 259.4 653.9 259.7 654.9 260.0C655.8 260.3 656.8 260.6 657.7 260.9C658.7 261.2 659.6 261.5 660.6 261.8C661.6 262.1 662.5 262.4 663.5 262.6C664.5 262.9 665.5 263.1 666.4 263.4C667.4 263.6 668.4 263.8 669.4 264.1C670.3 264.3 671.3 264.5 672.3 264.7C673.3 265.0 674.3 265.2 675.2 265.4C676.2 265.5 677.2 265.7 678.2 265.9C679.2 266.0 680.2 266.2 681.2 266.3C682.2 266.5 683.2 266.6 684.2 266.7C685.2 266.8 686.2 266.9 687.2 267.0C688.2 267.1 689.2 267.2 690.2 267.3C691.2 267.3 692.2 267.4 693.2 267.5C694.2 267.6 695.2 267.6 696.2 267.7C697.2 267.7 698.2 267.8 699.2 267.9C700.2 267.9 701.2 268.0 702.2 268.0C703.2 268.1 704.2 268.1 705.2 268.2C706.2 268.2 707.2 268.3 708.2 268.3C709.3 268.4 710.3 268.4 711.3 268.4C712.3 268.5 713.3 268.5 714.3 268.6C715.3 268.6 716.3 268.7 717.3 268.7C718.3 268.7 719.3 268.8 720.3 268.8C721.3 268.8 722.3 268.9 723.3 268.9C724.3 269.0 725.3 269.0 726.3 269.0C727.3 269.1 728.3 269.1 729.3 269.1C730.3 269.1 731.3 269.2 732.3 269.2C733.4 269.2 734.4 269.2 735.4 269.2C736.4 269.3 737.4 269.3 738.4 269.3C739.4 269.3 740.4 269.3 741.4 269.3C742.4 269.3 743.4 269.3 744.4 269.4C745.4 269.4 746.4 269.4 747.4 269.4C748.4 269.4 749.4 269.4 750.4 269.4C751.4 269.4 752.4 269.4 753.4 269.4C754.5 269.4 755.5 269.4 756.5 269.4C757.5 269.4 758.5 269.4 759.5 269.4C760.5 269.4 761.5 269.4 762.5 269.4C763.5 269.4 764.5 269.4 765.5 269.4C766.5 269.4 767.5 269.4 768.5 269.4C769.5 269.4 770.5 269.4 771.5 269.4C772.5 269.4 773.5 269.4 774.6 269.4C775.6 269.4 776.6 269.3 777.6 269.3C778.6 269.3 779.6 269.3 780.6 269.3C781.6 269.3 782.9 269.3 783.6 269.3C784.3 269.3 784.4 269.3 784.6 269.3"/>
<path d="M505.3 247.3C505.8 247.3 507.3 247.3 508.3 247.4C509.3 247.5 510.3 247.5 511.3 247.8C512.2 248.0 513.1 248.4 514.0 248.8C514.9 249.3 515.7 249.9 516.5 250.5C517.3 251.1 518.1 251.7 518.9 252.4C519.7 253.0 520.4 253.6 521.2 254.3C522.0 254.9 522.8 255.6 523.6 256.2C524.4 256.8 525.2 257.3 526.0 257.9C526.9 258.4 527.7 259.0 528.6 259.5C529.5 260.0 530.3 260.5 531.2 261.0C532.1 261.4 533.0 261.9 533.9 262.3C534.8 262.7 535.7 263.1 536.7 263.5C537.6 263.8 538.6 264.2 539.5 264.5C540.5 264.8 541.4 265.1 542.4 265.4C543.4 265.7 544.3 265.9 545.3 266.1C546.3 266.4 547.3 266.6 548.3 266.8C549.2 267.0 550.2 267.2 551.2 267.3C552.2 267.5 553.2 267.6 554.2 267.7C555.2 267.9 556.2 268.0 557.2 268.1C558.2 268.1 559.2 268.2 560.2 268.3C561.2 268.3 562.2 268.4 563.2 268.4C564.2 268.5 565.2 268.5 566.2 268.5C567.2 268.5 568.2 268.5 569.2 268.5C570.3 268.4 571.3 268.4 572.3 268.3C573.3 268.2 574.3 268.1 575.3 268.0C576.3 267.9 577.2 267.8 578.2 267.6C579.2 267.4 580.2 267.3 581.2 267.1C582.2 266.8 583.2 266.6 584.1 266.4C585.1 266.1 586.1 265.8 587.0 265.5C588.0 265.2 588.9 264.9 589.9 264.5C590.8 264.2 591.8 263.8 592.7 263.4C593.6 263.0 594.5 262.6 595.4 262.2C596.3 261.8 597.2 261.3 598.1 260.8C599.0 260.3 599.8 259.8 600.7 259.2C601.5 258.7 602.3 258.1 603.1 257.5C603.9 256.9 604.7 256.2 605.5 255.6C606.2 255.0 607.0 254.3 607.7 253.6C608.5 253.0 609.2 252.2 610.0 251.6C610.7 251.0 611.5 250.4 612.4 249.9C613.3 249.5 614.3 249.2 615.2 249.0C616.2 248.9 617.2 248.8 618.2 248.9C619.2 249.0 620.2 249.2 621.1 249.4C622.1 249.7 623.0 250.1 624.0 250.4C624.9 250.8 625.8 251.3 626.7 251.7C627.6 252.1 628.5 252.6 629.4 253.0C630.3 253.5 631.2 253.9 632.1 254.3C633.0 254.8 633.9 255.2 634.9 255.6C635.8 256.0 636.7 256.4 637.6 256.7C638.6 257.1 639.5 257.5 640.4 257.8C641.4 258.2 642.3 258.5 643.3 258.9C644.2 259.2 645.2 259.5 646.1 259.9C647.1 260.2 648.0 260.5 649.0 260.8C649.9 261.1 650.9 261.4 651.9 261.8C652.8 262.1 653.8 262.4 654.7 262.7C655.7 263.0 656.6 263.2 657.6 263.5C658.6 263.8 659.5 264.1 660.5 264.4C661.5 264.6 662.5 264.9 663.4 265.1C664.4 265.4 665.4 265.6 666.4 265.8C667.3 266.0 668.3 266.3 669.3 266.5C670.3 266.7 671.3 266.9 672.3 267.1C673.2 267.3 674.2 267.5 675.2 267.7C676.2 267.8 677.2 268.0 678.2 268.1C679.2 268.3 680.2 268.4 681.2 268.6C682.2 268.7 683.2 268.8 684.2 268.9C685.2 269.0 686.2 269.1 687.2 269.2C688.2 269.3 689.2 269.4 690.2 269.4C691.2 269.5 692.2 269.6 693.2 269.7C694.2 269.7 695.2 269.8 696.2 269.9C697.2 269.9 698.2 270.0 699.2 270.0C700.2 270.1 701.2 270.1 702.2 270.2C703.2 270.3 704.2 270.3 705.2 270.4C706.2 270.4 707.2 270.5 708.2 270.5C709.2 270.5 710.2 270.6 711.2 270.6C712.3 270.7 713.3 270.7 714.3 270.8C715.3 270.8 716.3 270.9 717.3 270.9C718.3 270.9 719.3 271.0 720.3 271.0C721.3 271.0 722.3 271.1 723.3 271.1C724.3 271.1 725.3 271.2 726.3 271.2C727.3 271.2 728.3 271.3 729.3 271.3C730.3 271.3 731.3 271.3 732.3 271.3C733.3 271.4 734.3 271.4 735.4 271.4C736.4 271.4 737.4 271.4 738.4 271.4C739.4 271.4 740.4 271.4 741.4 271.4C742.4 271.5 743.4 271.5 744.4 271.5C745.4 271.5 746.4 271.5 747.4 271.5C748.4 271.5 749.4 271.5 750.4 271.5C751.4 271.5 752.4 271.5 753.4 271.5C754.4 271.5 755.5 271.5 756.5 271.5C757.5 271.5 758.5 271.5 759.5 271.5C760.5 271.5 761.5 271.5 762.5 271.5C763.5 271.5 764.5 271.5 765.5 271.5C766.5 271.5 767.5 271.5 768.5 271.5C769.5 271.5 770.5 271.5 771.5 271.5C772.5 271.5 773.5 271.5 774.5 271.5C775.6 271.4 776.6 271.4 777.6 271.4C778.6 271.4 779.6 271.4 780.6 271.4C781.6 271.4 782.9 271.4 783.6 271.4C784.3 271.4 784.4 271.4 784.6 271.4"/>
<path d="M505.3 261.1C505.8 261.2 507.2 261.6 508.2 261.9C509.2 262.2 510.1 262.5 511.1 262.7C512.1 263.0 513.1 263.3 514.0 263.5C515.0 263.8 516.0 264.0 516.9 264.3C517.9 264.6 518.9 264.8 519.9 265.1C520.8 265.3 521.8 265.6 522.8 265.8C523.8 266.1 524.7 266.3 525.7 266.6C526.7 266.8 527.7 267.1 528.6 267.3C529.6 267.6 530.6 267.8 531.6 268.0C532.6 268.2 533.5 268.5 534.5 268.7C535.5 268.9 536.5 269.1 537.5 269.2C538.5 269.4 539.5 269.6 540.5 269.8C541.4 269.9 542.4 270.1 543.4 270.3C544.4 270.4 545.4 270.5 546.4 270.7C547.4 270.8 548.4 270.9 549.4 271.0C550.4 271.1 551.4 271.2 552.4 271.3C553.4 271.4 554.4 271.4 555.4 271.5C556.4 271.5 557.4 271.6 558.5 271.6C559.5 271.6 560.5 271.7 561.5 271.7C562.5 271.7 563.5 271.7 564.5 271.7C565.5 271.7 566.5 271.7 567.5 271.7C568.5 271.6 569.5 271.6 570.5 271.6C571.5 271.5 572.5 271.5 573.5 271.4C574.5 271.4 575.6 271.3 576.6 271.2C577.6 271.2 578.6 271.1 579.6 271.0C580.6 270.9 581.6 270.8 582.6 270.6C583.6 270.5 584.5 270.3 585.5 270.1C586.5 270.0 587.5 269.8 588.5 269.6C589.5 269.4 590.5 269.1 591.4 268.9C592.4 268.7 593.4 268.4 594.4 268.2C595.3 267.9 596.3 267.7 597.3 267.4C598.3 267.1 599.2 266.9 600.2 266.6C601.2 266.3 602.1 266.0 603.1 265.7C604.0 265.4 605.0 265.1 606.0 264.8C606.9 264.5 607.9 264.2 608.8 263.9C609.8 263.6 610.8 263.3 611.7 263.0C612.7 262.7 613.7 262.5 614.6 262.2C615.6 262.0 616.6 261.7 617.6 261.6C618.6 261.4 619.6 261.3 620.6 261.2C621.6 261.2 622.6 261.2 623.6 261.2C624.6 261.3 625.6 261.4 626.6 261.5C627.6 261.6 628.6 261.8 629.6 262.0C630.5 262.1 631.5 262.3 632.5 262.5C633.5 262.7 634.5 262.9 635.5 263.2C636.4 263.4 637.4 263.6 638.4 263.8C639.4 264.1 640.4 264.3 641.4 264.5C642.3 264.7 643.3 264.9 644.3 265.1C645.3 265.4 646.3 265.6 647.3 265.8C648.2 266.0 649.2 266.2 650.2 266.4C651.2 266.6 652.2 266.8 653.2 267.0C654.2 267.1 655.2 267.3 656.1 267.5C657.1 267.7 658.1 267.9 659.1 268.0C660.1 268.2 661.1 268.4 662.1 268.6C663.1 268.7 664.1 268.9 665.1 269.1C666.1 269.2 667.1 269.4 668.0 269.5C669.0 269.7 670.0 269.8 671.0 270.0C672.0 270.1 673.0 270.2 674.0 270.4C675.0 270.5 676.0 270.6 677.0 270.7C678.0 270.8 679.0 270.9 680.0 271.1C681.0 271.2 682.0 271.3 683.0 271.4C684.0 271.5 685.0 271.5 686.0 271.6C687.0 271.7 688.0 271.8 689.0 271.9C690.0 272.0 691.0 272.0 692.1 272.1C693.1 272.2 694.1 272.3 695.1 272.3C696.1 272.4 697.1 272.4 698.1 272.5C699.1 272.5 700.1 272.6 701.1 272.6C702.1 272.7 703.1 272.7 704.1 272.8C705.1 272.8 706.1 272.9 707.1 272.9C708.1 272.9 709.1 273.0 710.1 273.0C711.1 273.0 712.2 273.1 713.2 273.1C714.2 273.1 715.2 273.2 716.2 273.2C717.2 273.2 718.2 273.2 719.2 273.3C720.2 273.3 721.2 273.3 722.2 273.3C723.2 273.3 724.2 273.4 725.2 273.4C726.2 273.4 727.2 273.4 728.2 273.4C729.3 273.4 730.3 273.4 731.3 273.5C732.3 273.5 733.3 273.5 734.3 273.5C735.3 273.5 736.3 273.5 737.3 273.5C738.3 273.5 739.3 273.5 740.3 273.5C741.3 273.5 742.3 273.5 743.3 273.6C744.3 273.6 745.4 273.6 746.4 273.6C747.4 273.6 748.4 273.6 749.4 273.6C750.4 273.6 751.4 273.6 752.4 273.6C753.4 273.6 754.4 273.6 755.4 273.6C756.4 273.6 757.4 273.6 758.4 273.6C759.4 273.6 760.4 273.6 761.5 273.6C762.5 273.6 763.5 273.6 764.5 273.6C765.5 273.5 766.5 273.5 767.5 273.5C768.5 273.5 769.5 273.5 770.5 273.5C771.5 273.5 772.5 273.5 773.5 273.5C774.5 273.5 775.5 273.5 776.5 273.5C777.6 273.5 778.6 273.5 779.6 273.5C780.6 273.5 781.7 273.5 782.6 273.5C783.4 273.5 784.3 273.5 784.6 273.5"/>
<path d="M505.3 269.8C505.8 269.9 507.3 270.1 508.3 270.2C509.3 270.4 510.3 270.5 511.3 270.7C512.3 270.8 513.3 270.9 514.2 271.1C515.2 271.2 516.2 271.4 517.2 271.5C518.2 271.6 519.2 271.7 520.2 271.9C521.2 272.0 522.2 272.1 523.2 272.3C524.2 272.4 525.2 272.5 526.2 272.6C527.2 272.7 528.2 272.9 529.2 273.0C530.2 273.1 531.2 273.2 532.2 273.3C533.2 273.4 534.2 273.5 535.2 273.6C536.2 273.7 537.2 273.8 538.2 273.9C539.2 273.9 540.2 274.0 541.2 274.1C542.2 274.2 543.2 274.2 544.2 274.3C545.2 274.4 546.2 274.4 547.2 274.5C548.2 274.5 549.2 274.5 550.2 274.6C551.2 274.6 552.2 274.6 553.2 274.7C554.2 274.7 555.2 274.7 556.2 274.7C557.2 274.7 558.2 274.7 559.2 274.7C560.2 274.7 561.2 274.7 562.2 274.7C563.3 274.6 564.3 274.6 565.3 274.6C566.3 274.5 567.3 274.5 568.3 274.5C569.3 274.4 570.3 274.4 571.3 274.3C572.3 274.3 573.3 274.2 574.3 274.1C575.3 274.1 576.3 274.0 577.3 273.9C578.3 273.9 579.3 273.8 580.3 273.7C581.3 273.6 582.3 273.5 583.3 273.4C584.3 273.3 585.3 273.2 586.3 273.1C587.3 273.0 588.3 272.9 589.3 272.7C590.3 272.6 591.3 272.5 592.3 272.4C593.3 272.3 594.3 272.1 595.3 272.0C596.3 271.9 597.2 271.8 598.2 271.6C599.2 271.5 600.2 271.4 601.2 271.2C602.2 271.1 603.2 271.0 604.2 270.8C605.2 270.7 606.2 270.6 607.2 270.5C608.2 270.3 609.2 270.2 610.2 270.1C611.2 270.0 612.2 269.9 613.2 269.8C614.2 269.7 615.2 269.6 616.2 269.5C617.2 269.5 618.2 269.4 619.2 269.4C620.2 269.3 621.2 269.3 622.2 269.3C623.2 269.2 624.2 269.2 625.2 269.3C626.2 269.3 627.2 269.3 628.2 269.4C629.2 269.5 630.2 269.5 631.2 269.6C632.2 269.7 633.2 269.8 634.2 269.9C635.2 270.0 636.2 270.1 637.2 270.2C638.2 270.3 639.2 270.5 640.2 270.6C641.2 270.7 642.2 270.8 643.2 270.9C644.2 271.0 645.2 271.1 646.2 271.3C647.2 271.4 648.2 271.5 649.2 271.6C650.2 271.7 651.2 271.8 652.2 271.9C653.2 272.0 654.2 272.1 655.2 272.2C656.2 272.3 657.2 272.4 658.2 272.5C659.2 272.6 660.2 272.7 661.2 272.8C662.2 272.9 663.2 273.0 664.2 273.1C665.2 273.2 666.2 273.2 667.2 273.3C668.2 273.4 669.2 273.5 670.2 273.6C671.2 273.7 672.2 273.7 673.2 273.8C674.2 273.9 675.2 273.9 676.2 274.0C677.2 274.0 678.2 274.1 679.2 274.1C680.2 274.2 681.2 274.2 682.2 274.3C683.2 274.3 684.2 274.4 685.2 274.4C686.2 274.5 687.2 274.5 688.2 274.5C689.2 274.6 690.2 274.6 691.2 274.7C692.2 274.7 693.2 274.7 694.2 274.8C695.2 274.8 696.3 274.8 697.3 274.9C698.3 274.9 699.3 274.9 700.3 274.9C701.3 275.0 702.3 275.0 703.3 275.0C704.3 275.0 705.3 275.1 706.3 275.1C707.3 275.1 708.3 275.1 709.3 275.1C710.3 275.2 711.3 275.2 712.3 275.2C713.3 275.2 714.3 275.2 715.3 275.2C716.3 275.2 717.3 275.3 718.3 275.3C719.3 275.3 720.3 275.3 721.3 275.3C722.3 275.3 723.4 275.3 724.4 275.3C725.4 275.4 726.4 275.4 727.4 275.4C728.4 275.4 729.4 275.4 730.4 275.4C731.4 275.4 732.4 275.4 733.4 275.4C734.4 275.4 735.4 275.4 736.4 275.4C737.4 275.4 738.4 275.4 739.4 275.4C740.4 275.4 741.4 275.4 742.4 275.4C743.4 275.4 744.4 275.4 745.4 275.4C746.4 275.5 747.5 275.5 748.5 275.5C749.5 275.5 750.5 275.5 751.5 275.5C752.5 275.5 753.5 275.5 754.5 275.5C755.5 275.5 756.5 275.5 757.5 275.5C758.5 275.5 759.5 275.5 760.5 275.5C761.5 275.5 762.5 275.5 763.5 275.5C764.5 275.5 765.5 275.5 766.5 275.5C767.5 275.5 768.5 275.5 769.5 275.5C770.5 275.5 771.5 275.5 772.6 275.5C773.6 275.5 774.6 275.5 775.6 275.5C776.6 275.5 777.6 275.5 778.6 275.5C779.6 275.5 780.6 275.5 781.6 275.5C782.6 275.5 784.1 275.5 784.6 275.5"/>
<path d="M682.4 191.9C685.7 191.9 689.1 192.3 692.0 193.5C694.9 194.7 698.1 196.6 700.0 199.0C701.9 201.4 703.2 205.0 703.6 208.0C704.0 211.0 703.5 214.2 702.6 217.0C701.7 219.8 699.9 222.5 698.0 224.5C696.1 226.5 693.6 228.0 691.0 229.0C688.4 230.0 685.3 230.6 682.4 230.6C679.5 230.6 676.2 230.1 673.5 229.0C670.8 227.9 667.9 226.2 666.0 224.0C664.1 221.8 662.8 218.7 662.0 216.0C661.2 213.3 661.0 210.8 661.4 208.0C661.8 205.2 662.7 201.9 664.5 199.5C666.3 197.1 669.0 194.9 672.0 193.6C675.0 192.3 679.1 191.9 682.4 191.9Z" stroke-width="1.0"/>
</g>
</g>
<text transform="translate(551.9 304.6) scale(1.050 1)" font-size="24.8" text-anchor="middle">−1.0</text>
<text transform="translate(645.0 304.6) scale(1.050 1)" font-size="24.8" text-anchor="middle">−0.8</text>
<text transform="translate(738.0 304.6) scale(1.050 1)" font-size="24.8" text-anchor="middle">−0.6</text>
<text transform="translate(495.8 129.5) scale(1.050 1)" font-size="24.8" text-anchor="end">0.3</text>
<text transform="translate(495.8 181.3) scale(1.050 1)" font-size="24.8" text-anchor="end">0.2</text>
<text transform="translate(495.8 233.1) scale(1.050 1)" font-size="24.8" text-anchor="end">0.1</text>
<text transform="translate(496.0 284.8) scale(1.050 1)" font-size="24.8" text-anchor="end">0</text>
<path d="M551.9 276.7v-3.0 M551.9 100.2v3.0M598.4 276.7v-3.0 M598.4 100.2v3.0M645.0 276.7v-3.0 M645.0 100.2v3.0M691.5 276.7v-3.0 M691.5 100.2v3.0M738.0 276.7v-3.0 M738.0 100.2v3.0M505.3 121.2h3.0 M784.6 121.2h-3.0M505.3 173.0h3.0 M784.6 173.0h-3.0M505.3 224.8h3.0 M784.6 224.8h-3.0" stroke="#222" stroke-width="0.9" fill="none"/>
<rect x="505.3" y="100.2" width="279.3" height="176.5" fill="none" stroke="#222" stroke-width="1.1"/>
<text transform="translate(643.7 345.0) scale(1.060 1)" font-size="29.0" text-anchor="middle" xml:space="preserve"><tspan font-style="italic">z</tspan> (mm)</text>
</g>
<g id="panel-c">
<text transform="translate(804.7 23.8) scale(1.030 1)" font-size="28.3" text-anchor="start">(</text>
<text transform="translate(814.3 24.6) scale(1.000 1)" font-size="31.0" text-anchor="start" font-style="italic">c</text>
<text transform="translate(826.9 23.8) scale(1.030 1)" font-size="28.3" text-anchor="start">)</text>
<text transform="translate(849.6 24.6) scale(1.000 1)" font-size="23.5" text-anchor="start" font-style="italic">ω</text>
<text transform="translate(865.2 28.6) scale(1.000 1)" font-size="19.0" text-anchor="start" font-style="italic">x</text>
<text transform="translate(883.5 24.2) scale(1.040 1)" font-size="24.6" text-anchor="start">(s</text>
<text transform="translate(902.8 15.9) scale(1.250 1)" font-size="17.0" text-anchor="start">−</text>
<text transform="translate(914.2 15.9) scale(1.000 1)" font-size="17.0" text-anchor="start">1</text>
<text transform="translate(923.9 24.2) scale(1.040 1)" font-size="24.6" text-anchor="start">)</text>
<rect x="939.50" y="10.30" width="3.86" height="11.40" fill="#366bb2"/>
<rect x="942.96" y="10.30" width="7.29" height="11.40" fill="#417abc"/>
<rect x="949.85" y="10.30" width="7.29" height="11.40" fill="#4d84c2"/>
<rect x="956.74" y="10.30" width="7.29" height="11.40" fill="#5990c7"/>
<rect x="963.63" y="10.30" width="7.29" height="11.40" fill="#659acd"/>
<rect x="970.52" y="10.30" width="7.29" height="11.40" fill="#72a5d3"/>
<rect x="977.41" y="10.30" width="7.29" height="11.40" fill="#81b0d8"/>
<rect x="984.30" y="10.30" width="7.29" height="11.40" fill="#90bbdd"/>
<rect x="991.19" y="10.30" width="7.29" height="11.40" fill="#9fc6e2"/>
<rect x="998.08" y="10.30" width="7.29" height="11.40" fill="#accfe7"/>
<rect x="1004.97" y="10.30" width="7.29" height="11.40" fill="#bad6eb"/>
<rect x="1011.86" y="10.30" width="7.29" height="11.40" fill="#c6deee"/>
<rect x="1018.75" y="10.30" width="7.29" height="11.40" fill="#d4e5f2"/>
<rect x="1025.64" y="10.30" width="7.29" height="11.40" fill="#dfecf5"/>
<rect x="1032.53" y="10.30" width="7.29" height="11.40" fill="#e8f1f8"/>
<rect x="1039.42" y="10.30" width="7.29" height="11.40" fill="#f1f7fb"/>
<rect x="1046.31" y="10.30" width="7.29" height="11.40" fill="#fafcfe"/>
<rect x="1053.20" y="10.30" width="7.29" height="11.40" fill="#fffcfa"/>
<rect x="1060.09" y="10.30" width="7.29" height="11.40" fill="#fef4f0"/>
<rect x="1066.98" y="10.30" width="7.29" height="11.40" fill="#feeee5"/>
<rect x="1073.87" y="10.30" width="7.29" height="11.40" fill="#fde6db"/>
<rect x="1080.76" y="10.30" width="7.29" height="11.40" fill="#fcddcf"/>
<rect x="1087.65" y="10.30" width="7.29" height="11.40" fill="#f9d1c0"/>
<rect x="1094.54" y="10.30" width="7.29" height="11.40" fill="#f7c5b1"/>
<rect x="1101.43" y="10.30" width="7.29" height="11.40" fill="#f4b9a2"/>
<rect x="1108.32" y="10.30" width="7.29" height="11.40" fill="#f0ab94"/>
<rect x="1115.21" y="10.30" width="7.29" height="11.40" fill="#ea9b86"/>
<rect x="1122.10" y="10.30" width="7.29" height="11.40" fill="#e58b78"/>
<rect x="1128.99" y="10.30" width="7.29" height="11.40" fill="#df7b6a"/>
<rect x="1135.88" y="10.30" width="7.29" height="11.40" fill="#d86b5e"/>
<rect x="1142.77" y="10.30" width="7.29" height="11.40" fill="#cf5b52"/>
<rect x="1149.66" y="10.30" width="7.29" height="11.40" fill="#c64a48"/>
<rect x="1156.55" y="10.30" width="7.29" height="11.40" fill="#bd3a3c"/>
<rect x="1163.44" y="10.30" width="3.86" height="11.40" fill="#b52930"/>
<path d="M939.5 10.3H1167.3" stroke="#222" stroke-width="1" fill="none"/>
<path d="M939.5 10.3V21.7 M1167.3 10.3V21.7" stroke="#333" stroke-width="0.5" fill="none" opacity="0.6"/>
<path d="M943.0 10.3V21.7" stroke="#222" stroke-width="0.75" fill="none"/>
<text transform="translate(943.0 49.2) scale(1.050 1)" font-size="24.8" text-anchor="middle">−8</text>
<path d="M998.1 10.3V21.7" stroke="#222" stroke-width="0.75" fill="none"/>
<text transform="translate(998.1 49.2) scale(1.050 1)" font-size="24.8" text-anchor="middle">−4</text>
<path d="M1053.2 10.3V21.7" stroke="#222" stroke-width="0.75" fill="none"/>
<text transform="translate(1053.2 49.2) scale(1.050 1)" font-size="24.8" text-anchor="middle">0</text>
<path d="M1108.3 10.3V21.7" stroke="#222" stroke-width="0.75" fill="none"/>
<text transform="translate(1108.3 49.2) scale(1.050 1)" font-size="24.8" text-anchor="middle">4</text>
<path d="M1163.4 10.3V21.7" stroke="#222" stroke-width="0.75" fill="none"/>
<text transform="translate(1163.4 49.2) scale(1.050 1)" font-size="24.8" text-anchor="middle">8</text>
<text transform="translate(1099.0 80.0) scale(1.050 1)" font-size="24.8" text-anchor="start">(</text>
<text transform="translate(1117.6 82.0) scale(1.000 1)" font-size="31.0" text-anchor="middle">×</text>
<text transform="translate(1133.0 80.0) scale(0.900 1)" font-size="24.8" text-anchor="start">10</text>
<text transform="translate(1154.0 71.5) scale(1.000 1)" font-size="17.5" text-anchor="start">5</text>
<text transform="translate(1174.8 80.0) scale(1.050 1)" font-size="24.8" text-anchor="end">)</text>
<g clip-path="url(#clipc)">
<defs><linearGradient id="og0" gradientUnits="userSpaceOnUse" x1="892.0" y1="0" x2="952.0" y2="0"><stop offset="0" stop-color="#feefe7" stop-opacity="0"/><stop offset="1" stop-color="#feefe7" stop-opacity="1"/></linearGradient><linearGradient id="og1" gradientUnits="userSpaceOnUse" x1="915.0" y1="0" x2="1015.0" y2="0"><stop offset="0" stop-color="#fbdccc" stop-opacity="0"/><stop offset="1" stop-color="#fbdccc" stop-opacity="1"/></linearGradient><linearGradient id="og2" gradientUnits="userSpaceOnUse" x1="960.0" y1="0" x2="1080.0" y2="0"><stop offset="0" stop-color="#f7c6b0" stop-opacity="0"/><stop offset="1" stop-color="#f7c6b0" stop-opacity="1"/></linearGradient><linearGradient id="og3" gradientUnits="userSpaceOnUse" x1="1040.0" y1="0" x2="1150.0" y2="0"><stop offset="0" stop-color="#f2b299" stop-opacity="0"/><stop offset="1" stop-color="#f2b299" stop-opacity="1"/></linearGradient><linearGradient id="cg0" gradientUnits="userSpaceOnUse" x1="935.0" y1="0" x2="1025.0" y2="0"><stop offset="0" stop-color="#c6ddef" stop-opacity="0"/><stop offset="1" stop-color="#c6ddef" stop-opacity="1"/></linearGradient><linearGradient id="cg1" gradientUnits="userSpaceOnUse" x1="985.0" y1="0" x2="1095.0" y2="0"><stop offset="0" stop-color="#a3c8e4" stop-opacity="0"/><stop offset="1" stop-color="#a3c8e4" stop-opacity="1"/></linearGradient><linearGradient id="cg2" gradientUnits="userSpaceOnUse" x1="1035.0" y1="0" x2="1145.0" y2="0"><stop offset="0" stop-color="#6c9fd1" stop-opacity="0"/><stop offset="1" stop-color="#6c9fd1" stop-opacity="1"/></linearGradient><linearGradient id="cg3" gradientUnits="userSpaceOnUse" x1="1085.0" y1="0" x2="1165.0" y2="0"><stop offset="0" stop-color="#3f7cbc" stop-opacity="0"/><stop offset="1" stop-color="#3f7cbc" stop-opacity="1"/></linearGradient></defs>
<g filter="url(#b4)"><path d="M887.0 231.9L907.5 229.9L928.1 228.0L948.6 226.0L969.1 224.3L989.7 222.7L1010.2 221.6L1030.7 220.7L1051.3 220.4L1071.8 220.4L1092.3 221.0L1112.9 222.0L1133.4 223.4L1153.9 225.2L1174.5 227.4L1195.0 229.8L1195.0 258.1L1174.5 259.9L1153.9 259.5L1133.4 257.7L1112.9 255.1L1092.3 252.4L1071.8 249.9L1051.3 248.0L1030.7 246.8L1010.2 246.6L989.7 247.3L969.1 248.8L948.6 250.9L928.1 253.4L907.5 255.7L887.0 257.5Z" fill="url(#og0)"/></g>
<g filter="url(#b4)"><path d="M910.0 233.9L929.0 232.1L948.0 230.2L967.0 228.4L986.0 226.8L1005.0 225.6L1024.0 224.7L1043.0 224.3L1062.0 224.4L1081.0 224.9L1100.0 225.8L1119.0 227.1L1138.0 228.8L1157.0 230.7L1176.0 232.7L1195.0 234.7L1195.0 257.8L1176.0 259.5L1157.0 259.3L1138.0 257.8L1119.0 255.5L1100.0 253.0L1081.0 250.5L1062.0 248.4L1043.0 246.9L1024.0 246.1L1005.0 246.2L986.0 247.0L967.0 248.5L948.0 250.6L929.0 252.9L910.0 255.1Z" fill="url(#og1)"/></g>
<g filter="url(#b3)"><path d="M955.0 234.1L971.0 232.6L987.0 231.3L1003.0 230.2L1019.0 229.5L1035.0 229.1L1051.0 229.1L1067.0 229.5L1083.0 230.2L1099.0 231.3L1115.0 232.7L1131.0 234.2L1147.0 235.9L1163.0 237.7L1179.0 239.3L1195.0 240.7L1195.0 256.2L1179.0 257.9L1163.0 258.0L1147.0 257.1L1131.0 255.4L1115.0 253.3L1099.0 251.1L1083.0 248.9L1067.0 246.9L1051.0 245.4L1035.0 244.5L1019.0 244.1L1003.0 244.3L987.0 245.0L971.0 246.3L955.0 248.1Z" fill="url(#og2)"/></g>
<g filter="url(#b3)"><path d="M1035.0 233.7L1045.7 233.8L1056.3 234.1L1067.0 234.6L1077.7 235.2L1088.3 236.0L1099.0 236.9L1109.7 238.0L1120.3 239.1L1131.0 240.3L1141.7 241.5L1152.3 242.7L1163.0 243.8L1173.7 244.8L1184.3 245.6L1195.0 246.2L1195.0 255.2L1184.3 256.5L1173.7 257.0L1163.0 256.9L1152.3 256.3L1141.7 255.4L1131.0 254.2L1120.3 252.8L1109.7 251.4L1099.0 249.9L1088.3 248.4L1077.7 247.0L1067.0 245.8L1056.3 244.8L1045.7 244.0L1035.0 243.4Z" fill="url(#og3)"/></g>
<g filter="url(#b1_5)">
<path d="M880.0 263.4L896.3 262.3L912.6 260.8L928.9 259.3L945.3 257.8L961.6 256.4L977.9 255.4L994.2 254.7L1010.5 254.5L1026.8 254.7L1043.2 255.4L1059.5 256.4L1075.8 257.8L1092.1 259.4L1108.4 261.2L1124.7 262.8L1141.1 264.3L1157.4 265.3L1173.7 265.5L1190.0 264.8L1190.0 286L880.0 286Z" fill="#dae9f4"/>
</g>
<g filter="url(#b2)"><path d="M930.0 260.3L943.9 259.1L957.9 258.0L971.8 257.2L985.8 256.5L999.7 256.2L1013.7 256.1L1027.6 256.4L1041.6 256.9L1055.5 257.7L1069.5 258.7L1083.4 259.9L1097.4 261.2L1111.3 262.6L1125.3 263.9L1139.2 265.0L1153.2 265.9L1167.1 266.4L1181.1 266.4L1195.0 265.6L1195.0 286L930.0 286Z" fill="url(#cg0)"/></g>
<g filter="url(#b3)"><path d="M980.0 262.4L991.3 262.2L1002.6 262.2L1013.9 262.3L1025.3 262.5L1036.6 262.8L1047.9 263.2L1059.2 263.7L1070.5 264.3L1081.8 264.9L1093.2 265.6L1104.5 266.3L1115.8 267.0L1127.1 267.7L1138.4 268.3L1149.7 268.9L1161.1 269.5L1172.4 269.9L1183.7 270.2L1195.0 270.4L1195.0 286L980.0 286Z" fill="url(#cg1)"/></g>
<g filter="url(#b3)"><path d="M1030.0 267.9L1038.7 268.1L1047.4 268.3L1056.1 268.6L1064.7 268.8L1073.4 269.1L1082.1 269.4L1090.8 269.7L1099.5 270.0L1108.2 270.3L1116.8 270.6L1125.5 270.9L1134.2 271.3L1142.9 271.6L1151.6 271.9L1160.3 272.3L1168.9 272.6L1177.6 272.9L1186.3 273.3L1195.0 273.6L1195.0 286L1030.0 286Z" fill="url(#cg2)"/></g>
<g filter="url(#b2)"><path d="M1080.0 272.4L1086.1 272.5L1092.1 272.6L1098.2 272.8L1104.2 272.9L1110.3 273.0L1116.3 273.2L1122.4 273.3L1128.4 273.5L1134.5 273.6L1140.5 273.7L1146.6 273.9L1152.6 274.0L1158.7 274.2L1164.7 274.3L1170.8 274.5L1176.8 274.6L1182.9 274.8L1188.9 274.9L1195.0 275.1L1195.0 286L1080.0 286Z" fill="url(#cg3)"/></g>
<g fill="none" stroke="#202020" stroke-width="0.8" stroke-linejoin="round">
<path d="M895.5 130.6C899.4 130.4 911.0 129.8 918.7 129.5C926.4 129.1 934.1 128.8 941.9 128.5C949.6 128.2 957.3 127.9 965.0 127.6C972.8 127.3 980.5 127.1 988.2 126.8C996.0 126.6 1003.7 126.4 1011.4 126.2C1019.1 126.0 1026.9 125.8 1034.6 125.7C1042.3 125.6 1050.1 125.4 1057.8 125.3C1065.5 125.2 1073.2 125.2 1081.0 125.1C1088.7 125.1 1096.4 125.1 1104.2 125.1C1111.9 125.1 1119.6 125.1 1127.3 125.2C1135.1 125.3 1142.8 125.4 1150.5 125.5C1158.2 125.7 1169.8 126.0 1173.7 126.1"/>
<path d="M895.5 166.9C899.4 166.6 911.0 165.8 918.7 165.3C926.4 164.8 934.1 164.4 941.9 163.9C949.6 163.5 957.3 163.1 965.0 162.7C972.8 162.3 980.5 162.0 988.2 161.7C996.0 161.4 1003.7 161.1 1011.4 160.9C1019.1 160.6 1026.9 160.5 1034.6 160.3C1042.3 160.1 1050.1 160.0 1057.8 160.0C1065.5 159.9 1073.2 159.8 1081.0 159.8C1088.7 159.8 1096.4 159.8 1104.2 159.9C1111.9 159.9 1119.6 160.0 1127.3 160.1C1135.1 160.1 1142.8 160.2 1150.5 160.4C1158.2 160.5 1169.8 160.6 1173.7 160.7"/>
<path d="M895.5 186.0C899.4 185.7 911.0 184.8 918.7 184.3C926.4 183.7 934.1 183.2 941.9 182.8C949.6 182.3 957.3 181.9 965.0 181.5C972.8 181.1 980.5 180.8 988.2 180.5C996.0 180.2 1003.7 179.9 1011.4 179.7C1019.1 179.4 1026.9 179.2 1034.6 179.1C1042.3 178.9 1050.1 178.8 1057.8 178.8C1065.5 178.7 1073.2 178.6 1081.0 178.6C1088.7 178.6 1096.4 178.6 1104.2 178.7C1111.9 178.7 1119.6 178.8 1127.3 178.8C1135.1 178.9 1142.8 179.0 1150.5 179.1C1158.2 179.3 1169.8 179.4 1173.7 179.5"/>
<path d="M895.5 201.0C899.4 200.8 911.0 200.3 918.7 199.8C926.4 199.4 934.1 198.9 941.9 198.5C949.6 198.0 957.3 197.5 965.0 197.0C972.8 196.5 980.5 196.0 988.2 195.6C996.0 195.1 1003.7 194.7 1011.4 194.3C1019.1 193.9 1026.9 193.6 1034.6 193.3C1042.3 193.0 1050.1 192.8 1057.8 192.6C1065.5 192.4 1073.2 192.2 1081.0 192.1C1088.7 192.0 1096.4 192.0 1104.2 192.0C1111.9 192.0 1119.6 192.0 1127.3 192.1C1135.1 192.2 1142.8 192.3 1150.5 192.5C1158.2 192.6 1169.8 192.9 1173.7 193.0"/>
<path d="M895.5 212.3C899.4 211.9 911.0 210.9 918.7 210.2C926.4 209.5 934.1 208.8 941.9 208.2C949.6 207.5 957.3 206.9 965.0 206.3C972.8 205.7 980.5 205.2 988.2 204.7C996.0 204.2 1003.7 203.7 1011.4 203.3C1019.1 202.9 1026.9 202.6 1034.6 202.3C1042.3 202.0 1050.1 201.8 1057.8 201.6C1065.5 201.5 1073.2 201.3 1081.0 201.3C1088.7 201.3 1096.4 201.3 1104.2 201.4C1111.9 201.5 1119.6 201.7 1127.3 201.9C1135.1 202.1 1142.8 202.4 1150.5 202.8C1158.2 203.1 1169.8 203.8 1173.7 204.0"/>
<path d="M895.5 221.1C899.4 220.7 911.0 219.3 918.7 218.5C926.4 217.7 934.1 216.9 941.9 216.2C949.6 215.5 957.3 214.9 965.0 214.3C972.8 213.7 980.5 213.2 988.2 212.7C996.0 212.2 1003.7 211.7 1011.4 211.4C1019.1 211.0 1026.9 210.6 1034.6 210.4C1042.3 210.1 1050.1 209.9 1057.8 209.8C1065.5 209.6 1073.2 209.5 1081.0 209.6C1088.7 209.6 1096.4 209.6 1104.2 209.8C1111.9 210.0 1119.6 210.3 1127.3 210.7C1135.1 211.0 1142.8 211.5 1150.5 212.1C1158.2 212.8 1169.8 214.0 1173.7 214.4"/>
<path d="M895.5 227.3C899.4 226.9 911.0 225.7 918.7 225.0C926.4 224.3 934.1 223.6 941.9 222.9C949.6 222.2 957.3 221.6 965.0 221.0C972.8 220.4 980.5 219.9 988.2 219.4C996.0 218.9 1003.7 218.5 1011.4 218.1C1019.1 217.8 1026.9 217.5 1034.6 217.2C1042.3 217.0 1050.1 216.9 1057.8 216.8C1065.5 216.7 1073.2 216.7 1081.0 216.8C1088.7 217.0 1096.4 217.1 1104.2 217.4C1111.9 217.7 1119.6 218.1 1127.3 218.6C1135.1 219.1 1142.8 219.7 1150.5 220.4C1158.2 221.1 1169.8 222.4 1173.7 222.8"/>
<path d="M895.5 233.6C899.4 233.2 911.0 232.2 918.7 231.4C926.4 230.7 934.1 229.9 941.9 229.2C949.6 228.4 957.3 227.7 965.0 227.0C972.8 226.3 980.5 225.7 988.2 225.1C996.0 224.6 1003.7 224.1 1011.4 223.7C1019.1 223.4 1026.9 223.1 1034.6 222.9C1042.3 222.7 1050.1 222.7 1057.8 222.7C1065.5 222.7 1073.2 222.9 1081.0 223.1C1088.7 223.4 1096.4 223.7 1104.2 224.2C1111.9 224.6 1119.6 225.2 1127.3 225.8C1135.1 226.4 1142.8 227.2 1150.5 227.9C1158.2 228.6 1169.8 229.9 1173.7 230.3"/>
<path d="M895.5 239.0C899.4 238.7 911.0 237.7 918.7 236.9C926.4 236.2 934.1 235.3 941.9 234.5C949.6 233.7 957.3 232.9 965.0 232.2C972.8 231.5 980.5 230.8 988.2 230.2C996.0 229.6 1003.7 229.1 1011.4 228.8C1019.1 228.4 1026.9 228.2 1034.6 228.1C1042.3 227.9 1050.1 228.0 1057.8 228.1C1065.5 228.3 1073.2 228.5 1081.0 228.9C1088.7 229.3 1096.4 229.9 1104.2 230.5C1111.9 231.1 1119.6 231.8 1127.3 232.5C1135.1 233.3 1142.8 234.1 1150.5 234.9C1158.2 235.8 1169.8 237.0 1173.7 237.4"/>
<path d="M895.5 243.8C899.4 243.5 911.0 242.5 918.7 241.8C926.4 241.0 934.1 240.2 941.9 239.4C949.6 238.6 957.3 237.7 965.0 237.0C972.8 236.3 980.5 235.6 988.2 235.0C996.0 234.5 1003.7 234.0 1011.4 233.7C1019.1 233.4 1026.9 233.2 1034.6 233.2C1042.3 233.2 1050.1 233.3 1057.8 233.6C1065.5 233.8 1073.2 234.3 1081.0 234.8C1088.7 235.3 1096.4 236.0 1104.2 236.7C1111.9 237.5 1119.6 238.3 1127.3 239.2C1135.1 240.0 1142.8 241.0 1150.5 241.8C1158.2 242.6 1169.8 243.8 1173.7 244.2"/>
<path d="M895.5 249.2C899.4 248.8 911.0 247.7 918.7 246.8C926.4 245.9 934.1 244.9 941.9 244.1C949.6 243.2 957.3 242.2 965.0 241.5C972.8 240.7 980.5 240.0 988.2 239.5C996.0 239.0 1003.7 238.6 1011.4 238.4C1019.1 238.3 1026.9 238.2 1034.6 238.4C1042.3 238.5 1050.1 238.8 1057.8 239.3C1065.5 239.8 1073.2 240.4 1081.0 241.1C1088.7 241.9 1096.4 242.8 1104.2 243.6C1111.9 244.5 1119.6 245.5 1127.3 246.3C1135.1 247.2 1142.8 248.1 1150.5 248.8C1158.2 249.4 1169.8 250.0 1173.7 250.3"/>
<path d="M895.5 254.8C899.4 254.4 911.0 253.2 918.7 252.3C926.4 251.4 934.1 250.2 941.9 249.3C949.6 248.3 957.3 247.3 965.0 246.5C972.8 245.7 980.5 245.0 988.2 244.5C996.0 244.0 1003.7 243.7 1011.4 243.6C1019.1 243.5 1026.9 243.6 1034.6 243.9C1042.3 244.3 1050.1 244.8 1057.8 245.5C1065.5 246.2 1073.2 247.2 1081.0 248.1C1088.7 249.1 1096.4 250.3 1104.2 251.3C1111.9 252.4 1119.6 253.6 1127.3 254.6C1135.1 255.5 1142.8 256.5 1150.5 257.0C1158.2 257.5 1169.8 257.6 1173.7 257.7"/>
<path d="M895.5 261.7C899.4 261.4 911.0 260.4 918.7 259.6C926.4 258.9 934.1 258.1 941.9 257.4C949.6 256.7 957.3 255.9 965.0 255.4C972.8 254.8 980.5 254.4 988.2 254.1C996.0 253.8 1003.7 253.6 1011.4 253.6C1019.1 253.6 1026.9 253.7 1034.6 254.1C1042.3 254.4 1050.1 254.9 1057.8 255.4C1065.5 256.0 1073.2 256.8 1081.0 257.5C1088.7 258.3 1096.4 259.2 1104.2 260.1C1111.9 260.9 1119.6 261.8 1127.3 262.6C1135.1 263.3 1142.8 264.0 1150.5 264.4C1158.2 264.8 1169.8 264.9 1173.7 265.0"/>
<path d="M895.5 269.6C899.4 269.2 911.0 268.0 918.7 267.4C926.4 266.8 934.1 266.3 941.9 266.0C949.6 265.6 957.3 265.4 965.0 265.2C972.8 265.0 980.5 265.0 988.2 265.0C996.0 265.0 1003.7 265.0 1011.4 265.1C1019.1 265.3 1026.9 265.4 1034.6 265.6C1042.3 265.9 1050.1 266.1 1057.8 266.4C1065.5 266.7 1073.2 267.0 1081.0 267.3C1088.7 267.6 1096.4 267.9 1104.2 268.3C1111.9 268.6 1119.6 269.0 1127.3 269.4C1135.1 269.7 1142.8 270.1 1150.5 270.5C1158.2 270.8 1169.8 271.4 1173.7 271.6"/>
</g>
</g>
<text transform="translate(896.5 305.1) scale(1.050 1)" font-size="24.8" text-anchor="middle">1.2</text>
<text transform="translate(942.9 305.1) scale(1.050 1)" font-size="24.8" text-anchor="middle">1.3</text>
<text transform="translate(989.2 305.1) scale(1.050 1)" font-size="24.8" text-anchor="middle">1.4</text>
<text transform="translate(1035.6 305.1) scale(1.050 1)" font-size="24.8" text-anchor="middle">1.5</text>
<text transform="translate(1082.0 305.1) scale(1.050 1)" font-size="24.8" text-anchor="middle">1.6</text>
<text transform="translate(1128.3 305.1) scale(1.050 1)" font-size="24.8" text-anchor="middle">1.7</text>
<text transform="translate(1174.7 305.1) scale(1.050 1)" font-size="24.8" text-anchor="middle">1.8</text>
<text transform="translate(886.0 131.8) scale(1.050 1)" font-size="24.8" text-anchor="end">0.3</text>
<text transform="translate(886.0 182.9) scale(1.050 1)" font-size="24.8" text-anchor="end">0.2</text>
<text transform="translate(886.0 234.1) scale(1.050 1)" font-size="24.8" text-anchor="end">0.1</text>
<text transform="translate(886.2 286.4) scale(1.050 1)" font-size="24.8" text-anchor="end">0</text>
<path d="M941.9 276.9v-3.0 M941.9 103.2v3.0M988.2 276.9v-3.0 M988.2 103.2v3.0M1034.6 276.9v-3.0 M1034.6 103.2v3.0M1081.0 276.9v-3.0 M1081.0 103.2v3.0M1127.3 276.9v-3.0 M1127.3 103.2v3.0M895.5 123.5h3.0 M1173.7 123.5h-3.0M895.5 174.6h3.0 M1173.7 174.6h-3.0M895.5 225.8h3.0 M1173.7 225.8h-3.0" stroke="#222" stroke-width="0.9" fill="none"/>
<rect x="895.5" y="103.2" width="278.2" height="173.7" fill="none" stroke="#222" stroke-width="1.1"/>
<text transform="translate(1033.3 345.0) scale(1.060 1)" font-size="29.0" text-anchor="middle" xml:space="preserve"><tspan font-style="italic">z</tspan> (mm)</text>
</g>
</svg></body></html>
